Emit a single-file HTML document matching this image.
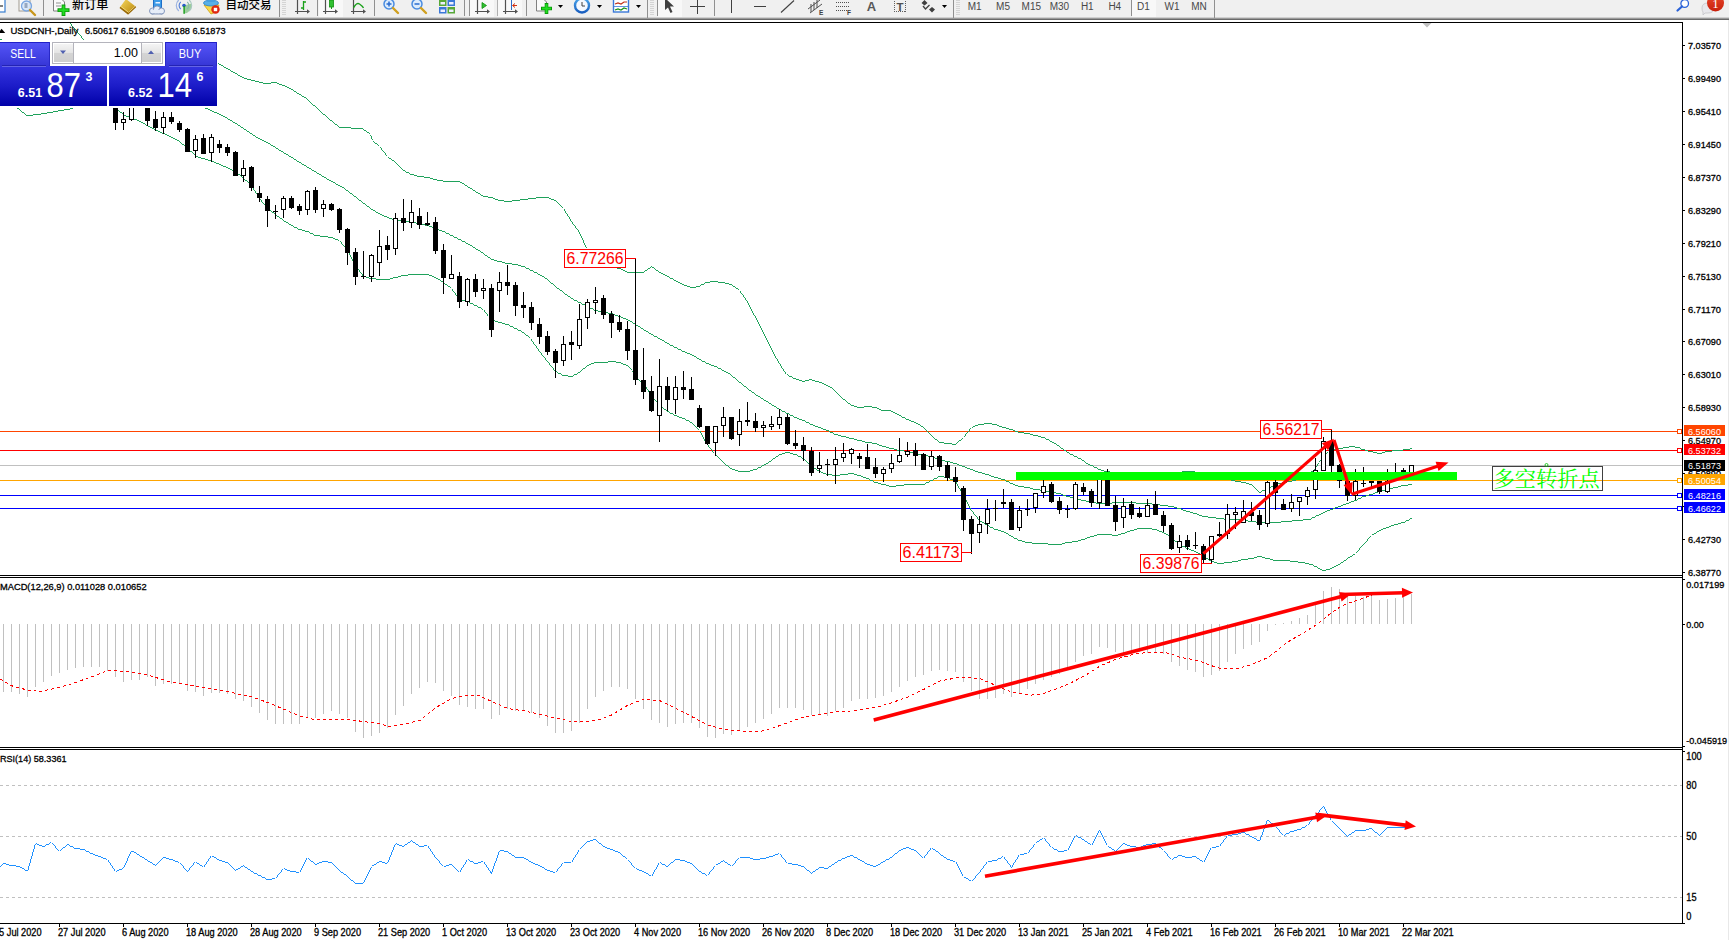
<!DOCTYPE html>
<html><head><meta charset="utf-8"><title>USDCNH Daily</title>
<style>html,body{margin:0;padding:0;background:#fff;overflow:hidden}body{width:1729px;height:940px;position:relative}</style>
</head><body>
<svg width="1729" height="940" viewBox="0 0 1729 940" style="position:absolute;left:0;top:0">
<rect width="1729" height="940" fill="#fff"/>
<g shape-rendering="crispEdges">
<rect x="0" y="431" width="1682" height="1" fill="#FF4500"/>
<rect x="0" y="450" width="1682" height="1" fill="#FF0000"/>
<rect x="0" y="465" width="1682" height="1" fill="#C0C0C0"/>
<rect x="0" y="480" width="1682" height="1" fill="#FFA500"/>
<rect x="0" y="495" width="1682" height="1" fill="#0000FF"/>
<rect x="0" y="508" width="1682" height="1" fill="#0000FF"/>
<path d="M69 22v1h1v-1zM70 23v1h1v-1zM71 24v2h1v-2zM72 26v1h1v-1zM73 27v1h1v-1zM74 28v1h1v-1zM75 29v1h1v-1zM76 30v1h1v-1zM77 31v2h1v-2zM78 33v1h1v-1zM79 34v1h1v-1zM80 35v1h1v-1zM81 36v2h1v-2zM82 38v1h1v-1zM83 39v1h1v-1zM84 40v1h1v-1zM84 40v2h1v-2zM85 42v1h1v-1zM86 43v2h1v-2zM86 44h4v1h-4zM90 45h6v1h-6zM96 46h7v1h-7zM103 47h6v1h-6zM109 48h6v1h-6zM115 49h7v1h-7zM122 50h6v1h-6zM128 51h6v1h-6zM134 52h7v1h-7zM141 53h6v1h-6zM147 54h4v1h-4zM150 54h4v1h-4zM154 55h8v1h-8zM162 56h7v1h-7zM169 57h8v1h-8zM177 58h8v1h-8zM185 59h7v1h-7zM192 60h8v1h-8zM200 61h7v1h-7zM207 62h8v1h-8zM215 63h4v1h-4zM218 63h1v1h-1zM219 64h2v1h-2zM221 65h2v1h-2zM223 66h1v1h-1zM224 67h2v1h-2zM226 68h2v1h-2zM228 69h2v1h-2zM230 70h1v1h-1zM230 70h1v1h-1zM231 71h2v1h-2zM233 72h2v1h-2zM235 73h2v1h-2zM237 74h1v1h-1zM238 75h2v1h-2zM240 76h2v1h-2zM242 77h2v1h-2zM244 78h1v1h-1zM244 78h3v1h-3zM247 79h4v1h-4zM251 80h4v1h-4zM255 81h4v1h-4zM259 82h4v1h-4zM263 83h3v1h-3zM265 83h6v1h-6zM271 82h5v1h-5zM275 82h2v1h-2zM277 83h2v1h-2zM279 84h3v1h-3zM282 85h3v1h-3zM285 86h2v1h-2zM287 87h2v1h-2zM288 87h1v1h-1zM289 88h2v1h-2zM291 89h2v1h-2zM293 90h1v1h-1zM294 91h2v1h-2zM296 92h1v1h-1zM297 93h2v1h-2zM299 94h2v1h-2zM301 95h1v1h-1zM302 96h2v1h-2zM304 97h2v1h-2zM306 98h1v1h-1zM306 98h1v1h-1zM307 99h1v1h-1zM308 100h1v1h-1zM309 101h1v1h-1zM310 102h1v1h-1zM311 103h1v1h-1zM312 104h1v1h-1zM313 105h2v1h-2zM315 106h1v1h-1zM316 107h1v1h-1zM317 108h1v1h-1zM318 109h1v1h-1zM319 110h1v1h-1zM320 111h1v1h-1zM321 112h1v1h-1zM321 112h1v1h-1zM322 113h1v1h-1zM323 114h2v1h-2zM325 115h1v1h-1zM326 116h1v1h-1zM327 117h1v1h-1zM328 118h1v1h-1zM329 119h1v1h-1zM330 120h2v1h-2zM332 121h1v1h-1zM333 122h1v1h-1zM334 123h1v1h-1zM335 124h2v1h-2zM337 125h1v1h-1zM338 126h1v1h-1zM339 127h1v1h-1zM339 127h12v1h-12zM351 128h12v1h-12zM362 128h1v1h-1zM363 129h1v1h-1zM364 130h2v1h-2zM366 131h1v1h-1zM367 132h2v1h-2zM369 133h1v1h-1zM370 134h1v1h-1zM370 134v2h1v-2zM371 136v3h1v-3zM372 139v2h1v-2zM372 140h1v1h-1zM373 141h1v1h-1zM374 142h1v1h-1zM375 143h2v1h-2zM377 144h1v1h-1zM378 145h1v1h-1zM379 146h1v1h-1zM379 146v1h1v-1zM380 147v1h1v-1zM381 148v2h1v-2zM382 150v1h1v-1zM383 151v1h1v-1zM384 152v1h1v-1zM385 153v2h1v-2zM386 155v1h1v-1zM387 156v1h1v-1zM387 156h1v1h-1zM388 157h1v1h-1zM389 158h2v1h-2zM391 159h1v1h-1zM392 160h2v1h-2zM394 161h1v1h-1zM395 162h1v1h-1zM395 162h1v1h-1zM396 163h1v1h-1zM397 164h1v1h-1zM398 165h1v1h-1zM399 166h1v1h-1zM400 167h1v1h-1zM401 168h1v1h-1zM402 169h1v1h-1zM403 170h1v1h-1zM403 170h2v1h-2zM405 171h1v1h-1zM406 172h3v1h-3zM409 173h1v1h-1zM410 174h2v1h-2zM411 174h3v1h-3zM414 175h3v1h-3zM417 176h3v1h-3zM419 176h5v1h-5zM424 177h4v1h-4zM427 177h3v1h-3zM430 178h3v1h-3zM433 179h3v1h-3zM435 179h2v1h-2zM437 180h2v1h-2zM438 180h5v1h-5zM443 181h5v1h-5zM447 181h13v1h-13zM459 181h1v1h-1zM460 182h2v1h-2zM462 183h2v1h-2zM464 184h1v1h-1zM465 185h2v1h-2zM467 186h1v1h-1zM467 186h1v1h-1zM468 187h2v1h-2zM470 188h2v1h-2zM472 189h1v1h-1zM473 190h2v1h-2zM475 191h1v1h-1zM475 191h1v1h-1zM476 192h2v1h-2zM478 193h2v1h-2zM480 194h1v1h-1zM481 195h2v1h-2zM483 196h1v1h-1zM483 196h5v1h-5zM488 197h4v1h-4zM491 197h2v1h-2zM493 198h2v1h-2zM495 199h3v1h-3zM498 200h2v1h-2zM499 200h5v1h-5zM504 201h4v1h-4zM507 201h5v1h-5zM512 200h4v1h-4zM515 200h5v1h-5zM520 199h4v1h-4zM523 199h5v1h-5zM528 198h4v1h-4zM531 198h5v1h-5zM536 197h4v1h-4zM539 197h9v1h-9zM547 197h2v1h-2zM549 198h2v1h-2zM551 199h3v1h-3zM554 200h2v1h-2zM555 200h1v1h-1zM556 201h1v1h-1zM557 202h1v1h-1zM558 203h1v1h-1zM559 204h1v1h-1zM560 205h1v1h-1zM561 206h1v1h-1zM562 207h1v1h-1zM563 208h1v1h-1zM563 208v1h1v-1zM564 209v2h1v-2zM565 211v2h1v-2zM566 213v1h1v-1zM567 214v2h1v-2zM568 216v1h1v-1zM569 217v2h1v-2zM570 219v2h1v-2zM571 221v1h1v-1zM571 221v1h1v-1zM572 222v2h1v-2zM573 224v1h1v-1zM574 225v1h1v-1zM575 226v2h1v-2zM576 228v1h1v-1zM577 229v1h1v-1zM578 230v2h1v-2zM579 232v1h1v-1zM579 232v2h1v-2zM580 234v2h1v-2zM581 236v2h1v-2zM582 238v2h1v-2zM583 240v3h1v-3zM584 243v2h1v-2zM585 245v2h1v-2zM586 247v2h1v-2zM586 248h1v1h-1zM587 249h1v1h-1zM588 250h1v1h-1zM589 251h2v1h-2zM591 252h1v1h-1zM592 253h1v1h-1zM593 254h1v1h-1zM594 255h1v1h-1zM595 256h1v1h-1zM596 257h2v1h-2zM598 258h1v1h-1zM599 259h1v1h-1zM600 260h1v1h-1zM600 260h2v1h-2zM602 261h2v1h-2zM604 262h2v1h-2zM606 263h2v1h-2zM608 264h3v1h-3zM611 265h2v1h-2zM613 266h2v1h-2zM615 267h2v1h-2zM617 268h2v1h-2zM618 268h3v1h-3zM620 268h1v1h-1zM621 269h2v1h-2zM623 270h2v1h-2zM625 271h2v1h-2zM627 272h1v1h-1zM627 272h9v1h-9zM635 272h9v1h-9zM643 272h1v1h-1zM644 271h1v1h-1zM645 270h2v1h-2zM647 269h1v1h-1zM648 268h2v1h-2zM650 267h1v1h-1zM651 266h1v1h-1zM651 266h1v1h-1zM652 267h2v1h-2zM654 268h1v1h-1zM655 269h1v1h-1zM656 270h2v1h-2zM658 271h1v1h-1zM658 271h1v1h-1zM659 272h2v1h-2zM661 273h2v1h-2zM663 274h2v1h-2zM665 275h2v1h-2zM667 276h1v1h-1zM667 276h2v1h-2zM669 277h1v1h-1zM670 278h3v1h-3zM673 279h1v1h-1zM674 280h2v1h-2zM675 280h1v1h-1zM676 281h2v1h-2zM678 282h2v1h-2zM680 283h2v1h-2zM682 284h2v1h-2zM684 285h1v1h-1zM684 285h3v1h-3zM687 286h3v1h-3zM690 287h3v1h-3zM692 287h4v1h-4zM696 286h3v1h-3zM698 286h2v1h-2zM700 285h1v1h-1zM701 284h3v1h-3zM704 283h1v1h-1zM705 282h2v1h-2zM706 282h4v1h-4zM710 281h4v1h-4zM713 281h5v1h-5zM718 282h5v1h-5zM722 282h3v1h-3zM725 283h4v1h-4zM729 284h3v1h-3zM731 284h1v1h-1zM732 285h1v1h-1zM733 286h2v1h-2zM735 287h1v1h-1zM736 288h2v1h-2zM738 289h1v1h-1zM739 290h1v1h-1zM739 290v1h1v-1zM740 291v2h1v-2zM741 293v1h1v-1zM742 294v1h1v-1zM743 295v2h1v-2zM744 297v1h1v-1zM745 298v2h1v-2zM746 300v1h1v-1zM746 300v1h1v-1zM747 301v2h1v-2zM748 303v2h1v-2zM749 305v2h1v-2zM750 307v2h1v-2zM751 309v2h1v-2zM752 311v2h1v-2zM753 313v2h1v-2zM754 315v1h1v-1zM754 315v1h1v-1zM755 316v2h1v-2zM756 318v2h1v-2zM757 320v2h1v-2zM758 322v2h1v-2zM759 324v2h1v-2zM760 326v2h1v-2zM761 328v1h1v-1zM761 328v2h1v-2zM762 330v2h1v-2zM763 332v2h1v-2zM764 334v2h1v-2zM765 336v2h1v-2zM766 338v2h1v-2zM767 340v2h1v-2zM768 342v2h1v-2zM768 343v1h1v-1zM769 344v2h1v-2zM770 346v2h1v-2zM771 348v2h1v-2zM772 350v2h1v-2zM773 352v2h1v-2zM774 354v2h1v-2zM775 356v2h1v-2zM776 358v1h1v-1zM776 358v1h1v-1zM777 359v2h1v-2zM778 361v2h1v-2zM779 363v1h1v-1zM780 364v2h1v-2zM781 366v2h1v-2zM782 368v1h1v-1zM782 368v1h1v-1zM783 369v2h1v-2zM784 371v1h1v-1zM785 372v2h1v-2zM786 374v1h1v-1zM786 374h2v1h-2zM788 375h1v1h-1zM789 376h3v1h-3zM792 377h1v1h-1zM793 378h2v1h-2zM794 378h2v1h-2zM796 379h3v1h-3zM799 380h3v1h-3zM802 381h2v1h-2zM803 381h2v1h-2zM805 380h4v1h-4zM809 379h2v1h-2zM810 379h2v1h-2zM812 380h3v1h-3zM815 381h4v1h-4zM819 382h2v1h-2zM820 382h2v1h-2zM822 383h1v1h-1zM822 383h2v1h-2zM824 384h2v1h-2zM826 385h2v1h-2zM828 386h2v1h-2zM830 387h2v1h-2zM831 387h1v1h-1zM832 388h1v1h-1zM833 389h1v1h-1zM834 390h1v1h-1zM835 391h1v1h-1zM836 392h1v1h-1zM837 393h1v1h-1zM838 394h1v1h-1zM839 395h1v1h-1zM840 396h1v1h-1zM841 397h1v1h-1zM841 397h1v1h-1zM842 398h1v1h-1zM843 399h2v1h-2zM845 400h1v1h-1zM846 401h1v1h-1zM847 402h1v1h-1zM848 403h2v1h-2zM850 404h1v1h-1zM851 405h1v1h-1zM851 405h3v1h-3zM854 406h3v1h-3zM857 407h3v1h-3zM859 407h5v1h-5zM864 406h4v1h-4zM867 406h5v1h-5zM872 407h4v1h-4zM875 407h2v1h-2zM877 408h2v1h-2zM879 409h2v1h-2zM881 410h2v1h-2zM882 410h9v1h-9zM890 410h1v1h-1zM891 411h2v1h-2zM893 412h2v1h-2zM895 413h2v1h-2zM897 414h2v1h-2zM899 415h1v1h-1zM899 415h2v1h-2zM901 416h1v1h-1zM902 417h3v1h-3zM905 418h1v1h-1zM906 419h2v1h-2zM907 419h2v1h-2zM909 420h2v1h-2zM911 421h3v1h-3zM914 422h2v1h-2zM915 422h1v1h-1zM916 423h2v1h-2zM918 424h2v1h-2zM920 425h1v1h-1zM921 426h2v1h-2zM923 427h1v1h-1zM923 427h1v1h-1zM924 428h1v1h-1zM925 429h1v1h-1zM926 430h1v1h-1zM927 431h1v1h-1zM928 432h1v1h-1zM929 433h1v1h-1zM930 434h1v1h-1zM931 435h1v1h-1zM931 435h1v1h-1zM932 436h1v1h-1zM933 437h1v1h-1zM934 438h1v1h-1zM935 439h2v1h-2zM937 440h1v1h-1zM938 441h1v1h-1zM939 442h1v1h-1zM939 442h5v1h-5zM944 443h4v1h-4zM947 443h5v1h-5zM952 444h4v1h-4zM955 444h1v1h-1zM956 443h1v1h-1zM957 442h1v1h-1zM958 441h1v1h-1zM959 440h2v1h-2zM961 439h1v1h-1zM962 438h1v1h-1zM963 437h1v1h-1zM963 437v1h1v-1zM964 436v1h1v-1zM965 434v2h1v-2zM966 433v1h1v-1zM967 432v1h1v-1zM968 431v1h1v-1zM969 429v2h1v-2zM970 428v1h1v-1zM971 427v1h1v-1zM971 427h2v1h-2zM973 426h2v1h-2zM975 425h3v1h-3zM978 424h2v1h-2zM979 424h5v1h-5zM984 423h4v1h-4zM987 423h5v1h-5zM992 424h4v1h-4zM995 424h2v1h-2zM997 425h2v1h-2zM999 426h3v1h-3zM1002 427h2v1h-2zM1003 427h3v1h-3zM1006 428h3v1h-3zM1009 429h3v1h-3zM1011 429h2v1h-2zM1013 430h2v1h-2zM1015 431h3v1h-3zM1018 432h2v1h-2zM1019 432h5v1h-5zM1024 433h4v1h-4zM1027 433h3v1h-3zM1030 434h3v1h-3zM1033 435h3v1h-3zM1035 435h3v1h-3zM1038 436h3v1h-3zM1041 437h3v1h-3zM1043 437h2v1h-2zM1045 438h1v1h-1zM1046 439h3v1h-3zM1049 440h1v1h-1zM1050 441h2v1h-2zM1051 441h1v1h-1zM1052 442h2v1h-2zM1054 443h2v1h-2zM1056 444h1v1h-1zM1057 445h2v1h-2zM1059 446h1v1h-1zM1059 446h1v1h-1zM1060 447h1v1h-1zM1061 448h2v1h-2zM1063 449h1v1h-1zM1064 450h2v1h-2zM1066 451h1v1h-1zM1067 452h1v1h-1zM1067 452h2v1h-2zM1069 453h1v1h-1zM1070 454h3v1h-3zM1073 455h1v1h-1zM1074 456h2v1h-2zM1075 456h2v1h-2zM1077 457h1v1h-1zM1078 458h3v1h-3zM1081 459h1v1h-1zM1082 460h2v1h-2zM1083 460h1v1h-1zM1084 461h1v1h-1zM1085 462h1v1h-1zM1086 463h1v1h-1zM1086 463h2v1h-2zM1088 464h2v1h-2zM1090 465h2v1h-2zM1091 465h2v1h-2zM1093 466h1v1h-1zM1094 467h3v1h-3zM1097 468h1v1h-1zM1098 469h2v1h-2zM1099 469h2v1h-2zM1101 470h3v1h-3zM1104 471h2v1h-2zM1105 471h5v1h-5zM1110 472h8v1h-8zM1118 473h9v1h-9zM1127 474h5v1h-5zM1131 474h35v1h-35zM1165 474h4v1h-4zM1169 473h6v1h-6zM1175 472h7v1h-7zM1182 471h4v1h-4zM1185 471h8v1h-8zM1192 471h3v1h-3zM1195 472h5v1h-5zM1200 473h5v1h-5zM1205 474h4v1h-4zM1209 475h5v1h-5zM1214 476h3v1h-3zM1216 476h3v1h-3zM1219 477h4v1h-4zM1223 478h4v1h-4zM1227 479h4v1h-4zM1231 480h4v1h-4zM1235 481h3v1h-3zM1237 481h4v1h-4zM1241 482h3v1h-3zM1243 482h3v1h-3zM1246 483h3v1h-3zM1249 484h3v1h-3zM1251 484h1v1h-1zM1252 485h1v1h-1zM1253 486h1v1h-1zM1254 487h1v1h-1zM1255 488h1v1h-1zM1256 489h1v1h-1zM1257 490h1v1h-1zM1258 491h1v1h-1zM1259 492h1v1h-1zM1259 492h2v1h-2zM1261 491h1v1h-1zM1262 490h3v1h-3zM1265 489h1v1h-1zM1266 488h2v1h-2zM1267 488h2v1h-2zM1269 487h2v1h-2zM1271 486h3v1h-3zM1274 485h2v1h-2zM1275 485h2v1h-2zM1277 484h1v1h-1zM1278 483h2v1h-2zM1279 483h3v1h-3zM1282 482h5v1h-5zM1287 481h5v1h-5zM1292 480h3v1h-3zM1294 480h2v1h-2zM1296 479h2v1h-2zM1298 478h3v1h-3zM1301 477h3v1h-3zM1304 476h2v1h-2zM1306 475h2v1h-2zM1307 475h1v1h-1zM1308 474h1v1h-1zM1309 473h1v1h-1zM1310 472h1v1h-1zM1311 471h2v1h-2zM1313 470h1v1h-1zM1314 469h1v1h-1zM1315 468h1v1h-1zM1316 467h1v1h-1zM1316 466v2h1v-2zM1317 464v2h1v-2zM1318 462v2h1v-2zM1318 462h1v1h-1zM1319 461h1v1h-1zM1320 460h1v1h-1zM1321 459h1v1h-1zM1321 459v1h1v-1zM1322 458v1h1v-1zM1323 457v1h1v-1zM1324 456v1h1v-1zM1325 454v2h1v-2zM1326 453v1h1v-1zM1327 452v1h1v-1zM1328 451v1h1v-1zM1328 451h2v1h-2zM1330 450h2v1h-2zM1331 450h3v1h-3zM1334 449h4v1h-4zM1338 448h3v1h-3zM1340 448h3v1h-3zM1343 447h6v1h-6zM1349 446h3v1h-3zM1351 446h4v1h-4zM1355 447h4v1h-4zM1358 447h2v1h-2zM1360 448h1v1h-1zM1361 449h2v1h-2zM1362 449h3v1h-3zM1365 450h3v1h-3zM1368 451h3v1h-3zM1370 451h3v1h-3zM1373 452h4v1h-4zM1377 453h3v1h-3zM1379 453h3v1h-3zM1382 452h3v1h-3zM1385 451h3v1h-3zM1387 451h5v1h-5zM1392 450h5v1h-5zM1396 450h7v1h-7zM1403 449h6v1h-6zM1408 449h2v1h-2zM1410 448h2v1h-2z" fill="#1FA25B"/>
<path d="M0 39h2v1h-2zM2 40h1v1h-1zM2 40h1v1h-1zM3 41h1v1h-1zM4 42h1v1h-1zM4 42h2v1h-2zM6 43h4v1h-4zM10 44h3v1h-3zM13 45h4v1h-4zM17 46h3v1h-3zM20 47h4v1h-4zM24 48h3v1h-3zM27 49h4v1h-4zM31 50h3v1h-3zM34 51h4v1h-4zM38 52h3v1h-3zM41 53h4v1h-4zM45 54h3v1h-3zM48 55h4v1h-4zM52 56h3v1h-3zM55 57h4v1h-4zM59 58h2v1h-2zM60 58h2v1h-2zM62 59h3v1h-3zM65 60h4v1h-4zM69 61h3v1h-3zM72 62h4v1h-4zM76 63h3v1h-3zM79 64h3v1h-3zM82 65h3v1h-3zM85 66h4v1h-4zM89 67h3v1h-3zM92 68h4v1h-4zM96 69h3v1h-3zM99 70h3v1h-3zM102 71h3v1h-3zM105 72h4v1h-4zM109 73h3v1h-3zM112 74h4v1h-4zM116 75h3v1h-3zM119 76h2v1h-2zM120 76h2v1h-2zM122 77h3v1h-3zM125 78h2v1h-2zM127 79h3v1h-3zM130 80h3v1h-3zM133 81h2v1h-2zM135 82h3v1h-3zM138 83h3v1h-3zM141 84h2v1h-2zM143 85h3v1h-3zM146 86h3v1h-3zM149 87h2v1h-2zM151 88h3v1h-3zM154 89h3v1h-3zM157 90h2v1h-2zM159 91h3v1h-3zM162 92h3v1h-3zM165 93h3v1h-3zM168 94h2v1h-2zM170 95h3v1h-3zM173 96h3v1h-3zM176 97h2v1h-2zM178 98h3v1h-3zM181 99h3v1h-3zM184 100h2v1h-2zM186 101h3v1h-3zM189 102h3v1h-3zM192 103h2v1h-2zM194 104h3v1h-3zM197 105h3v1h-3zM200 106h2v1h-2zM202 107h3v1h-3zM205 108h2v1h-2zM206 108h2v1h-2zM208 109h2v1h-2zM210 110h2v1h-2zM212 111h2v1h-2zM214 112h3v1h-3zM217 113h2v1h-2zM219 114h2v1h-2zM221 115h2v1h-2zM222 115h1v1h-1zM223 116h2v1h-2zM225 117h2v1h-2zM227 118h1v1h-1zM228 119h2v1h-2zM230 120h2v1h-2zM232 121h1v1h-1zM233 122h2v1h-2zM235 123h2v1h-2zM237 124h1v1h-1zM237 124h1v1h-1zM238 125h2v1h-2zM240 126h1v1h-1zM241 127h2v1h-2zM243 128h1v1h-1zM244 129h2v1h-2zM246 130h1v1h-1zM247 131h2v1h-2zM249 132h1v1h-1zM250 133h2v1h-2zM252 134h1v1h-1zM253 135h2v1h-2zM255 136h1v1h-1zM255 136h1v1h-1zM256 137h2v1h-2zM258 138h2v1h-2zM260 139h2v1h-2zM262 140h2v1h-2zM264 141h2v1h-2zM266 142h2v1h-2zM268 143h2v1h-2zM270 144h1v1h-1zM270 144h1v1h-1zM271 145h2v1h-2zM273 146h2v1h-2zM275 147h1v1h-1zM276 148h2v1h-2zM278 149h1v1h-1zM279 150h2v1h-2zM281 151h2v1h-2zM283 152h1v1h-1zM284 153h2v1h-2zM286 154h2v1h-2zM288 155h1v1h-1zM288 155h1v1h-1zM289 156h2v1h-2zM291 157h2v1h-2zM293 158h1v1h-1zM294 159h2v1h-2zM296 160h1v1h-1zM297 161h2v1h-2zM299 162h2v1h-2zM301 163h1v1h-1zM302 164h2v1h-2zM304 165h2v1h-2zM306 166h1v1h-1zM306 166h1v1h-1zM307 167h2v1h-2zM309 168h2v1h-2zM311 169h1v1h-1zM312 170h2v1h-2zM314 171h2v1h-2zM316 172h1v1h-1zM317 173h2v1h-2zM319 174h2v1h-2zM321 175h1v1h-1zM322 176h2v1h-2zM324 177h2v1h-2zM326 178h1v1h-1zM326 178h1v1h-1zM327 179h2v1h-2zM329 180h2v1h-2zM331 181h2v1h-2zM333 182h2v1h-2zM335 183h1v1h-1zM336 184h2v1h-2zM338 185h2v1h-2zM340 186h2v1h-2zM342 187h2v1h-2zM344 188h1v1h-1zM344 188h1v1h-1zM345 189h1v1h-1zM346 190h2v1h-2zM348 191h1v1h-1zM349 192h1v1h-1zM350 193h2v1h-2zM352 194h1v1h-1zM353 195h1v1h-1zM354 196h2v1h-2zM356 197h1v1h-1zM357 198h1v1h-1zM357 198h1v1h-1zM358 199h1v1h-1zM359 200h2v1h-2zM361 201h1v1h-1zM362 202h1v1h-1zM363 203h2v1h-2zM365 204h1v1h-1zM366 205h1v1h-1zM367 206h2v1h-2zM369 207h1v1h-1zM370 208h1v1h-1zM370 208h1v1h-1zM371 209h2v1h-2zM373 210h2v1h-2zM375 211h1v1h-1zM376 212h2v1h-2zM378 213h2v1h-2zM380 214h2v1h-2zM382 215h1v1h-1zM382 215h2v1h-2zM384 216h3v1h-3zM387 217h2v1h-2zM389 218h3v1h-3zM392 219h2v1h-2zM393 219h4v1h-4zM397 220h8v1h-8zM405 221h4v1h-4zM408 221h3v1h-3zM411 222h5v1h-5zM416 223h5v1h-5zM421 224h3v1h-3zM423 224h2v1h-2zM425 225h4v1h-4zM429 226h2v1h-2zM430 226h2v1h-2zM432 227h2v1h-2zM434 228h2v1h-2zM435 228h2v1h-2zM437 229h2v1h-2zM439 230h3v1h-3zM442 231h2v1h-2zM443 231h2v1h-2zM445 232h1v1h-1zM446 233h3v1h-3zM449 234h1v1h-1zM450 235h2v1h-2zM451 235h2v1h-2zM453 236h1v1h-1zM454 237h3v1h-3zM457 238h1v1h-1zM458 239h2v1h-2zM459 239h2v1h-2zM461 240h1v1h-1zM462 241h3v1h-3zM465 242h1v1h-1zM466 243h2v1h-2zM467 243h1v1h-1zM468 244h2v1h-2zM470 245h2v1h-2zM472 246h1v1h-1zM473 247h2v1h-2zM475 248h1v1h-1zM475 248h1v1h-1zM476 249h2v1h-2zM478 250h2v1h-2zM480 251h1v1h-1zM481 252h2v1h-2zM483 253h1v1h-1zM483 253h1v1h-1zM484 254h1v1h-1zM485 255h2v1h-2zM487 256h1v1h-1zM488 257h2v1h-2zM490 258h1v1h-1zM491 259h1v1h-1zM491 259h3v1h-3zM494 260h3v1h-3zM497 261h3v1h-3zM499 261h3v1h-3zM502 262h3v1h-3zM505 263h3v1h-3zM507 263h5v1h-5zM512 264h4v1h-4zM515 264h3v1h-3zM518 265h3v1h-3zM521 266h3v1h-3zM523 266h2v1h-2zM525 267h1v1h-1zM526 268h3v1h-3zM529 269h1v1h-1zM530 270h2v1h-2zM531 270h2v1h-2zM533 271h1v1h-1zM534 272h3v1h-3zM537 273h1v1h-1zM538 274h2v1h-2zM539 274h1v1h-1zM540 275h2v1h-2zM542 276h2v1h-2zM544 277h1v1h-1zM545 278h2v1h-2zM547 279h1v1h-1zM547 279h1v1h-1zM548 280h1v1h-1zM549 281h1v1h-1zM550 282h1v1h-1zM551 283h2v1h-2zM553 284h1v1h-1zM554 285h1v1h-1zM555 286h1v1h-1zM555 286h1v1h-1zM556 287h1v1h-1zM557 288h2v1h-2zM559 289h1v1h-1zM560 290h2v1h-2zM562 291h1v1h-1zM563 292h1v1h-1zM563 292h1v1h-1zM564 293h1v1h-1zM565 294h2v1h-2zM567 295h1v1h-1zM568 296h2v1h-2zM570 297h1v1h-1zM571 298h1v1h-1zM571 298h2v1h-2zM573 299h1v1h-1zM574 300h3v1h-3zM577 301h1v1h-1zM578 302h2v1h-2zM579 302h2v1h-2zM581 303h1v1h-1zM582 304h3v1h-3zM585 305h1v1h-1zM586 306h2v1h-2zM587 306h2v1h-2zM589 307h1v1h-1zM590 308h3v1h-3zM593 309h1v1h-1zM594 310h2v1h-2zM595 310h3v1h-3zM598 311h3v1h-3zM601 312h3v1h-3zM603 312h5v1h-5zM608 313h4v1h-4zM611 313h2v1h-2zM613 314h2v1h-2zM615 315h3v1h-3zM618 316h2v1h-2zM619 316h2v1h-2zM621 317h2v1h-2zM623 318h3v1h-3zM626 319h2v1h-2zM627 319h1v1h-1zM628 320h2v1h-2zM630 321h2v1h-2zM632 322h1v1h-1zM633 323h2v1h-2zM635 324h1v1h-1zM635 324h1v1h-1zM636 325h2v1h-2zM638 326h2v1h-2zM640 327h1v1h-1zM641 328h2v1h-2zM643 329h1v1h-1zM643 329h1v1h-1zM644 330h2v1h-2zM646 331h2v1h-2zM648 332h1v1h-1zM649 333h2v1h-2zM651 334h1v1h-1zM651 334h2v1h-2zM653 335h1v1h-1zM654 336h3v1h-3zM657 337h1v1h-1zM658 338h2v1h-2zM659 338h1v1h-1zM660 339h2v1h-2zM662 340h2v1h-2zM664 341h1v1h-1zM665 342h2v1h-2zM667 343h1v1h-1zM667 343h2v1h-2zM669 344h1v1h-1zM670 345h3v1h-3zM673 346h1v1h-1zM674 347h2v1h-2zM675 347h2v1h-2zM677 348h1v1h-1zM678 349h3v1h-3zM681 350h1v1h-1zM682 351h2v1h-2zM683 351h2v1h-2zM685 352h2v1h-2zM687 353h3v1h-3zM690 354h2v1h-2zM691 354h1v1h-1zM692 355h2v1h-2zM694 356h2v1h-2zM696 357h1v1h-1zM697 358h2v1h-2zM699 359h1v1h-1zM699 359h2v1h-2zM701 360h1v1h-1zM702 361h3v1h-3zM705 362h1v1h-1zM706 363h2v1h-2zM707 363h2v1h-2zM709 364h2v1h-2zM711 365h3v1h-3zM714 366h2v1h-2zM715 366h2v1h-2zM717 367h1v1h-1zM718 368h3v1h-3zM721 369h1v1h-1zM722 370h2v1h-2zM723 370h1v1h-1zM724 371h2v1h-2zM726 372h2v1h-2zM728 373h2v1h-2zM730 374h1v1h-1zM730 374h1v1h-1zM731 375h1v1h-1zM732 376h1v1h-1zM733 377h2v1h-2zM735 378h1v1h-1zM736 379h1v1h-1zM737 380h1v1h-1zM737 380h1v1h-1zM738 381h1v1h-1zM739 382h2v1h-2zM741 383h1v1h-1zM742 384h1v1h-1zM743 385h1v1h-1zM744 386h2v1h-2zM746 387h1v1h-1zM747 388h1v1h-1zM747 388h1v1h-1zM748 389h1v1h-1zM749 390h2v1h-2zM751 391h1v1h-1zM752 392h2v1h-2zM754 393h1v1h-1zM755 394h1v1h-1zM755 394h1v1h-1zM756 395h2v1h-2zM758 396h2v1h-2zM760 397h1v1h-1zM761 398h2v1h-2zM763 399h1v1h-1zM763 399h1v1h-1zM764 400h2v1h-2zM766 401h2v1h-2zM768 402h1v1h-1zM769 403h2v1h-2zM771 404h1v1h-1zM771 404h1v1h-1zM772 405h2v1h-2zM774 406h2v1h-2zM776 407h1v1h-1zM777 408h2v1h-2zM779 409h1v1h-1zM779 409h2v1h-2zM781 410h1v1h-1zM782 411h3v1h-3zM785 412h1v1h-1zM786 413h2v1h-2zM787 413h2v1h-2zM789 414h1v1h-1zM790 415h3v1h-3zM793 416h1v1h-1zM794 417h2v1h-2zM795 417h2v1h-2zM797 418h2v1h-2zM799 419h3v1h-3zM802 420h2v1h-2zM803 420h2v1h-2zM805 421h1v1h-1zM806 422h3v1h-3zM809 423h1v1h-1zM810 424h2v1h-2zM811 424h2v1h-2zM813 425h2v1h-2zM815 426h3v1h-3zM818 427h2v1h-2zM819 427h2v1h-2zM821 428h2v1h-2zM823 429h3v1h-3zM826 430h2v1h-2zM827 430h2v1h-2zM829 431h1v1h-1zM830 432h3v1h-3zM833 433h1v1h-1zM834 434h2v1h-2zM835 434h3v1h-3zM838 435h3v1h-3zM841 436h3v1h-3zM843 436h3v1h-3zM846 437h3v1h-3zM849 438h3v1h-3zM851 438h3v1h-3zM854 439h3v1h-3zM857 440h3v1h-3zM859 440h3v1h-3zM862 441h3v1h-3zM865 442h3v1h-3zM867 442h5v1h-5zM872 443h4v1h-4zM875 443h2v1h-2zM877 444h2v1h-2zM879 445h3v1h-3zM882 446h2v1h-2zM883 446h3v1h-3zM886 447h3v1h-3zM889 448h3v1h-3zM891 448h3v1h-3zM894 449h3v1h-3zM897 450h3v1h-3zM899 450h5v1h-5zM904 451h4v1h-4zM907 451h3v1h-3zM910 452h3v1h-3zM913 453h3v1h-3zM915 453h3v1h-3zM918 454h3v1h-3zM921 455h3v1h-3zM923 455h5v1h-5zM928 456h4v1h-4zM931 456h2v1h-2zM933 457h2v1h-2zM935 458h3v1h-3zM938 459h2v1h-2zM939 459h3v1h-3zM942 460h3v1h-3zM945 461h3v1h-3zM947 461h3v1h-3zM950 462h3v1h-3zM953 463h3v1h-3zM955 463h2v1h-2zM957 464h2v1h-2zM959 465h3v1h-3zM962 466h2v1h-2zM963 466h2v1h-2zM965 467h2v1h-2zM967 468h3v1h-3zM970 469h2v1h-2zM971 469h2v1h-2zM973 470h2v1h-2zM975 471h3v1h-3zM978 472h2v1h-2zM979 472h3v1h-3zM982 473h3v1h-3zM985 474h3v1h-3zM987 474h2v1h-2zM989 475h2v1h-2zM991 476h3v1h-3zM994 477h2v1h-2zM995 477h3v1h-3zM998 478h3v1h-3zM1001 479h3v1h-3zM1003 479h2v1h-2zM1005 480h1v1h-1zM1006 481h3v1h-3zM1009 482h1v1h-1zM1010 483h2v1h-2zM1011 483h2v1h-2zM1013 484h2v1h-2zM1015 485h3v1h-3zM1018 486h2v1h-2zM1019 486h5v1h-5zM1024 487h4v1h-4zM1027 487h3v1h-3zM1030 488h3v1h-3zM1033 489h3v1h-3zM1035 489h5v1h-5zM1040 490h4v1h-4zM1043 490h3v1h-3zM1046 491h3v1h-3zM1049 492h3v1h-3zM1051 492h5v1h-5zM1056 493h4v1h-4zM1059 493h2v1h-2zM1061 494h2v1h-2zM1063 495h3v1h-3zM1066 496h2v1h-2zM1067 496h3v1h-3zM1070 497h3v1h-3zM1073 498h3v1h-3zM1075 498h3v1h-3zM1078 499h3v1h-3zM1081 500h3v1h-3zM1083 500h3v1h-3zM1086 501h3v1h-3zM1089 502h3v1h-3zM1091 502h5v1h-5zM1096 503h4v1h-4zM1099 503h9v1h-9zM1107 503h5v1h-5zM1112 502h4v1h-4zM1115 502h9v1h-9zM1123 502h9v1h-9zM1131 502h5v1h-5zM1136 503h4v1h-4zM1139 503h9v1h-9zM1147 503h5v1h-5zM1152 504h4v1h-4zM1155 504h5v1h-5zM1160 505h4v1h-4zM1163 505h5v1h-5zM1168 506h4v1h-4zM1171 506h3v1h-3zM1174 507h3v1h-3zM1177 508h3v1h-3zM1179 508h2v1h-2zM1181 509h2v1h-2zM1183 510h3v1h-3zM1186 511h2v1h-2zM1187 511h3v1h-3zM1190 512h3v1h-3zM1193 513h3v1h-3zM1195 513h2v1h-2zM1197 514h2v1h-2zM1199 515h3v1h-3zM1202 516h2v1h-2zM1203 516h5v1h-5zM1208 517h4v1h-4zM1211 517h5v1h-5zM1216 518h4v1h-4zM1219 518h5v1h-5zM1224 519h4v1h-4zM1227 519h9v1h-9zM1235 519h5v1h-5zM1240 520h4v1h-4zM1243 520h5v1h-5zM1248 521h4v1h-4zM1251 521h5v1h-5zM1256 522h4v1h-4zM1259 522h9v1h-9zM1267 522h9v1h-9zM1275 522h6v1h-6zM1281 521h5v1h-5zM1285 521h7v1h-7zM1292 520h11v1h-11zM1303 519h7v1h-7zM1309 519h2v1h-2zM1311 518h1v1h-1zM1312 517h3v1h-3zM1315 516h1v1h-1zM1316 515h2v1h-2zM1317 515h2v1h-2zM1319 514h2v1h-2zM1321 513h2v1h-2zM1323 512h2v1h-2zM1325 511h2v1h-2zM1327 510h2v1h-2zM1328 510h2v1h-2zM1330 509h3v1h-3zM1333 508h2v1h-2zM1335 507h3v1h-3zM1338 506h2v1h-2zM1339 506h2v1h-2zM1341 505h2v1h-2zM1343 504h3v1h-3zM1346 503h2v1h-2zM1347 503h2v1h-2zM1349 502h2v1h-2zM1351 501h3v1h-3zM1354 500h2v1h-2zM1355 500h2v1h-2zM1357 499h1v1h-1zM1358 498h3v1h-3zM1361 497h1v1h-1zM1362 496h2v1h-2zM1363 496h3v1h-3zM1366 495h3v1h-3zM1369 494h3v1h-3zM1371 494h2v1h-2zM1373 493h2v1h-2zM1375 492h3v1h-3zM1378 491h2v1h-2zM1379 491h3v1h-3zM1382 490h3v1h-3zM1385 489h3v1h-3zM1387 489h3v1h-3zM1390 488h3v1h-3zM1393 487h3v1h-3zM1395 487h3v1h-3zM1398 486h3v1h-3zM1401 485h3v1h-3zM1403 485h5v1h-5zM1408 484h4v1h-4z" fill="#1FA25B"/>
<path d="M0 100h2v1h-2zM2 101h2v1h-2zM4 102h2v1h-2zM6 103h2v1h-2zM8 104h3v1h-3zM11 105h2v1h-2zM13 106h2v1h-2zM15 107h2v1h-2zM17 108h2v1h-2zM18 108h1v1h-1zM19 109h1v1h-1zM20 110h1v1h-1zM21 111h1v1h-1zM22 112h2v1h-2zM24 113h1v1h-1zM25 114h1v1h-1zM26 115h1v1h-1zM26 115h7v1h-7zM33 114h6v1h-6zM38 114h3v1h-3zM41 113h6v1h-6zM47 112h6v1h-6zM53 111h5v1h-5zM58 110h6v1h-6zM64 109h6v1h-6zM70 108h3v1h-3zM72 108h1v1h-1zM73 107h1v1h-1zM74 106h2v1h-2zM76 105h1v1h-1zM77 104h2v1h-2zM79 103h1v1h-1zM80 102h1v1h-1zM80 102h31v1h-31zM110 102h1v1h-1zM111 103h1v1h-1zM112 104h1v1h-1zM113 105h1v1h-1zM114 106h1v1h-1zM115 107h1v1h-1zM116 108h1v1h-1zM116 108h1v1h-1zM117 109h1v1h-1zM118 110h1v1h-1zM119 111h1v1h-1zM120 112h2v1h-2zM122 113h1v1h-1zM123 114h1v1h-1zM124 115h1v1h-1zM124 115h2v1h-2zM126 116h3v1h-3zM129 117h3v1h-3zM132 118h2v1h-2zM134 119h3v1h-3zM137 120h2v1h-2zM138 120h1v1h-1zM139 121h2v1h-2zM141 122h2v1h-2zM143 123h2v1h-2zM145 124h1v1h-1zM146 125h2v1h-2zM148 126h2v1h-2zM150 127h2v1h-2zM152 128h1v1h-1zM152 128h2v1h-2zM154 129h2v1h-2zM156 130h2v1h-2zM158 131h2v1h-2zM160 132h2v1h-2zM162 133h2v1h-2zM163 133h2v1h-2zM165 134h2v1h-2zM167 135h2v1h-2zM169 136h2v1h-2zM171 137h2v1h-2zM173 138h2v1h-2zM175 139h2v1h-2zM177 140h2v1h-2zM178 140h1v1h-1zM179 141h1v1h-1zM180 142h1v1h-1zM181 143h1v1h-1zM182 144h2v1h-2zM184 145h1v1h-1zM185 146h1v1h-1zM186 147h1v1h-1zM186 147h1v1h-1zM187 148h1v1h-1zM188 149h1v1h-1zM189 150h1v1h-1zM190 151h2v1h-2zM192 152h1v1h-1zM193 153h1v1h-1zM194 154h1v1h-1zM195 155h1v1h-1zM196 156h1v1h-1zM196 156h2v1h-2zM198 157h3v1h-3zM201 158h4v1h-4zM205 159h3v1h-3zM208 160h3v1h-3zM211 161h2v1h-2zM212 161h2v1h-2zM214 162h2v1h-2zM216 163h3v1h-3zM219 164h2v1h-2zM221 165h2v1h-2zM223 166h3v1h-3zM226 167h2v1h-2zM228 168h2v1h-2zM229 168h1v1h-1zM230 169h2v1h-2zM232 170h1v1h-1zM233 171h2v1h-2zM235 172h2v1h-2zM237 173h1v1h-1zM238 174h2v1h-2zM240 175h1v1h-1zM240 175h1v1h-1zM241 176h1v1h-1zM242 177h1v1h-1zM243 178h1v1h-1zM244 179h1v1h-1zM245 180h2v1h-2zM247 181h1v1h-1zM248 182h1v1h-1zM249 183h1v1h-1zM250 184h1v1h-1zM251 185h1v1h-1zM251 185v1h1v-1zM252 186v2h1v-2zM253 188v2h1v-2zM254 190v1h1v-1zM255 191v2h1v-2zM256 193v1h1v-1zM257 194v2h1v-2zM258 196v2h1v-2zM259 198v1h1v-1zM259 198v1h1v-1zM260 199v1h1v-1zM261 200v2h1v-2zM262 202v1h1v-1zM263 203v1h1v-1zM264 204v1h1v-1zM265 205v2h1v-2zM266 207v1h1v-1zM267 208v1h1v-1zM267 208h1v1h-1zM268 209h1v1h-1zM269 210h2v1h-2zM271 211h1v1h-1zM272 212h2v1h-2zM274 213h1v1h-1zM275 214h1v1h-1zM275 214h1v1h-1zM276 215h1v1h-1zM277 216h2v1h-2zM279 217h1v1h-1zM280 218h2v1h-2zM282 219h1v1h-1zM283 220h1v1h-1zM283 220h1v1h-1zM284 221h2v1h-2zM286 222h2v1h-2zM288 223h1v1h-1zM289 224h2v1h-2zM291 225h1v1h-1zM291 225h2v1h-2zM293 226h1v1h-1zM294 227h3v1h-3zM297 228h1v1h-1zM298 229h2v1h-2zM299 229h3v1h-3zM302 230h3v1h-3zM305 231h3v1h-3zM307 231h2v1h-2zM309 232h1v1h-1zM310 233h3v1h-3zM313 234h1v1h-1zM314 235h2v1h-2zM315 235h5v1h-5zM320 236h4v1h-4zM323 236h5v1h-5zM328 237h4v1h-4zM331 237h2v1h-2zM333 238h2v1h-2zM335 239h3v1h-3zM338 240h2v1h-2zM339 240v1h1v-1zM340 241v1h1v-1zM341 242v2h1v-2zM342 244v1h1v-1zM343 245v1h1v-1zM344 246v1h1v-1zM345 247v2h1v-2zM346 249v1h1v-1zM347 250v1h1v-1zM347 250v1h1v-1zM348 251v2h1v-2zM349 253v2h1v-2zM350 255v2h1v-2zM351 257v2h1v-2zM352 259v2h1v-2zM353 261v2h1v-2zM354 263v2h1v-2zM355 265v1h1v-1zM355 265v1h1v-1zM356 266v2h1v-2zM357 268v1h1v-1zM358 269v1h1v-1zM359 270v2h1v-2zM360 272v1h1v-1zM361 273v1h1v-1zM362 274v2h1v-2zM363 276v1h1v-1zM363 276h3v1h-3zM366 277h3v1h-3zM369 278h3v1h-3zM371 278h5v1h-5zM376 279h4v1h-4zM379 279h9v1h-9zM387 279h3v1h-3zM390 278h3v1h-3zM393 277h3v1h-3zM395 277h3v1h-3zM398 276h3v1h-3zM401 275h3v1h-3zM403 275h5v1h-5zM408 274h4v1h-4zM411 274h9v1h-9zM419 274h9v1h-9zM427 274h2v1h-2zM429 275h2v1h-2zM430 275h2v1h-2zM432 276h2v1h-2zM434 277h2v1h-2zM435 277h1v1h-1zM436 278h2v1h-2zM438 279h2v1h-2zM440 280h1v1h-1zM441 281h2v1h-2zM443 282h1v1h-1zM443 282h1v1h-1zM444 283h1v1h-1zM445 284h2v1h-2zM447 285h1v1h-1zM448 286h2v1h-2zM450 287h1v1h-1zM451 288h1v1h-1zM451 288v1h1v-1zM452 289v2h1v-2zM453 291v1h1v-1zM454 292v1h1v-1zM455 293v2h1v-2zM456 295v1h1v-1zM457 296v1h1v-1zM458 297v2h1v-2zM459 299v1h1v-1zM459 299h3v1h-3zM462 300h3v1h-3zM465 301h3v1h-3zM467 301h2v1h-2zM469 302h1v1h-1zM470 303h3v1h-3zM473 304h1v1h-1zM474 305h2v1h-2zM475 305h2v1h-2zM477 306h1v1h-1zM478 307h3v1h-3zM481 308h1v1h-1zM482 309h2v1h-2zM483 309v1h1v-1zM484 310v2h1v-2zM485 312v1h1v-1zM486 313v1h1v-1zM487 314v2h1v-2zM488 316v1h1v-1zM488 316h1v1h-1zM489 317h1v1h-1zM490 318h2v1h-2zM492 319h1v1h-1zM493 320h1v1h-1zM493 320h2v1h-2zM495 321h3v1h-3zM498 322h2v1h-2zM499 322h3v1h-3zM502 323h3v1h-3zM505 324h3v1h-3zM507 324h2v1h-2zM509 325h1v1h-1zM510 326h3v1h-3zM513 327h1v1h-1zM514 328h2v1h-2zM515 328h2v1h-2zM517 329h1v1h-1zM518 330h3v1h-3zM521 331h1v1h-1zM522 332h2v1h-2zM523 332h1v1h-1zM524 333h1v1h-1zM525 334h1v1h-1zM526 335h2v1h-2zM528 336h1v1h-1zM529 337h1v1h-1zM530 338h1v1h-1zM530 338v1h1v-1zM531 339v2h1v-2zM532 341v1h1v-1zM533 342v2h1v-2zM534 344v1h1v-1zM535 345v1h1v-1zM536 346v2h1v-2zM537 348v1h1v-1zM538 349v2h1v-2zM539 351v1h1v-1zM539 351v1h1v-1zM540 352v1h1v-1zM541 353v2h1v-2zM542 355v1h1v-1zM543 356v1h1v-1zM544 357v1h1v-1zM545 358v2h1v-2zM546 360v1h1v-1zM547 361v1h1v-1zM547 361v1h1v-1zM548 362v1h1v-1zM549 363v2h1v-2zM550 365v1h1v-1zM551 366v1h1v-1zM552 367v1h1v-1zM553 368v2h1v-2zM554 370v1h1v-1zM555 371v1h1v-1zM555 371h2v1h-2zM557 372h1v1h-1zM558 373h3v1h-3zM561 374h1v1h-1zM562 375h2v1h-2zM563 375h5v1h-5zM568 376h4v1h-4zM571 376h2v1h-2zM573 375h1v1h-1zM574 374h3v1h-3zM577 373h1v1h-1zM578 372h2v1h-2zM579 372h1v1h-1zM580 371h1v1h-1zM581 370h1v1h-1zM582 369h1v1h-1zM583 368h2v1h-2zM585 367h1v1h-1zM586 366h1v1h-1zM587 365h1v1h-1zM587 365h2v1h-2zM589 364h2v1h-2zM591 363h3v1h-3zM594 362h2v1h-2zM595 362h9v1h-9zM603 362h5v1h-5zM608 361h4v1h-4zM611 361h5v1h-5zM616 362h4v1h-4zM619 362h2v1h-2zM621 363h2v1h-2zM623 364h3v1h-3zM626 365h2v1h-2zM627 365h1v1h-1zM628 366h1v1h-1zM629 367h1v1h-1zM630 368h1v1h-1zM631 369h1v1h-1zM632 370h1v1h-1zM632 370v2h1v-2zM633 372v2h1v-2zM634 374v2h1v-2zM635 376v2h1v-2zM635 377h1v1h-1zM636 378h1v1h-1zM637 379h2v1h-2zM639 380h1v1h-1zM640 381h2v1h-2zM642 382h1v1h-1zM643 383h1v1h-1zM643 383v1h1v-1zM644 384v2h1v-2zM645 386v1h1v-1zM646 387v2h1v-2zM647 389v1h1v-1zM648 390v2h1v-2zM649 392v1h1v-1zM650 393v2h1v-2zM651 395v1h1v-1zM651 395v1h1v-1zM652 396v1h1v-1zM653 397v2h1v-2zM654 399v1h1v-1zM655 400v1h1v-1zM656 401v1h1v-1zM657 402v2h1v-2zM658 404v1h1v-1zM659 405v1h1v-1zM659 405h1v1h-1zM660 406h1v1h-1zM661 407h2v1h-2zM663 408h1v1h-1zM664 409h2v1h-2zM666 410h1v1h-1zM667 411h1v1h-1zM667 411h2v1h-2zM669 412h1v1h-1zM670 413h3v1h-3zM673 414h1v1h-1zM674 415h2v1h-2zM675 415h2v1h-2zM677 416h2v1h-2zM679 417h3v1h-3zM682 418h2v1h-2zM683 418h2v1h-2zM685 419h1v1h-1zM686 420h3v1h-3zM689 421h1v1h-1zM690 422h2v1h-2zM691 422h1v1h-1zM692 423h1v1h-1zM693 424h1v1h-1zM694 425h1v1h-1zM695 426h1v1h-1zM696 427h1v1h-1zM697 428h1v1h-1zM698 429h1v1h-1zM699 430h1v1h-1zM699 430v1h1v-1zM700 431v2h1v-2zM701 433v2h1v-2zM702 435v2h1v-2zM703 437v2h1v-2zM704 439v2h1v-2zM705 441v2h1v-2zM706 443v1h1v-1zM706 443v1h1v-1zM707 444v1h1v-1zM708 445v2h1v-2zM709 447v1h1v-1zM710 448v1h1v-1zM711 449v1h1v-1zM712 450v2h1v-2zM713 452v1h1v-1zM714 453v1h1v-1zM714 453h1v1h-1zM715 454h1v1h-1zM716 455h1v1h-1zM717 456h1v1h-1zM718 457h1v1h-1zM719 458h1v1h-1zM720 459h1v1h-1zM721 460h1v1h-1zM722 461h1v1h-1zM722 461h1v1h-1zM723 462h1v1h-1zM724 463h1v1h-1zM725 464h1v1h-1zM726 465h2v1h-2zM728 466h1v1h-1zM729 467h1v1h-1zM730 468h1v1h-1zM730 468h2v1h-2zM732 469h3v1h-3zM735 470h3v1h-3zM738 471h2v1h-2zM739 471h9v1h-9zM747 471h3v1h-3zM750 470h3v1h-3zM753 469h3v1h-3zM755 469h2v1h-2zM757 468h1v1h-1zM758 467h3v1h-3zM761 466h1v1h-1zM762 465h2v1h-2zM763 465h1v1h-1zM764 464h2v1h-2zM766 463h2v1h-2zM768 462h1v1h-1zM769 461h2v1h-2zM771 460h1v1h-1zM771 460h1v1h-1zM772 459h1v1h-1zM773 458h2v1h-2zM775 457h1v1h-1zM776 456h2v1h-2zM778 455h1v1h-1zM779 454h1v1h-1zM779 454h3v1h-3zM782 453h3v1h-3zM785 452h3v1h-3zM787 452h3v1h-3zM790 453h3v1h-3zM793 454h3v1h-3zM795 454h2v1h-2zM797 455h1v1h-1zM798 456h3v1h-3zM801 457h1v1h-1zM802 458h2v1h-2zM803 458h1v1h-1zM804 459h1v1h-1zM805 460h1v1h-1zM806 461h1v1h-1zM807 462h1v1h-1zM808 463h1v1h-1zM809 464h1v1h-1zM810 465h1v1h-1zM811 466h1v1h-1zM811 466h1v1h-1zM812 467h2v1h-2zM814 468h2v1h-2zM816 469h1v1h-1zM817 470h2v1h-2zM819 471h1v1h-1zM819 471h2v1h-2zM821 472h2v1h-2zM823 473h3v1h-3zM826 474h2v1h-2zM827 474h5v1h-5zM832 475h4v1h-4zM835 475h5v1h-5zM840 474h4v1h-4zM843 474h5v1h-5zM848 473h4v1h-4zM851 473h3v1h-3zM854 474h3v1h-3zM857 475h3v1h-3zM859 475h2v1h-2zM861 476h2v1h-2zM863 477h3v1h-3zM866 478h2v1h-2zM867 478h2v1h-2zM869 479h1v1h-1zM870 480h3v1h-3zM873 481h1v1h-1zM874 482h2v1h-2zM875 482h3v1h-3zM878 483h3v1h-3zM881 484h3v1h-3zM883 484h3v1h-3zM886 485h3v1h-3zM889 486h3v1h-3zM891 486h5v1h-5zM896 485h4v1h-4zM899 485h5v1h-5zM904 484h4v1h-4zM907 484h9v1h-9zM915 484h9v1h-9zM923 484h2v1h-2zM925 483h1v1h-1zM926 482h3v1h-3zM929 481h1v1h-1zM930 480h2v1h-2zM931 480h2v1h-2zM933 479h1v1h-1zM934 478h3v1h-3zM937 477h1v1h-1zM938 476h2v1h-2zM939 476h5v1h-5zM944 477h4v1h-4zM947 477h2v1h-2zM949 478h1v1h-1zM950 479h3v1h-3zM953 480h1v1h-1zM954 481h2v1h-2zM955 481v1h1v-1zM956 482v2h1v-2zM957 484v2h1v-2zM958 486v2h1v-2zM959 488v1h1v-1zM960 489v2h1v-2zM961 491v2h1v-2zM962 493v2h1v-2zM963 495v1h1v-1zM963 495v1h1v-1zM964 496v2h1v-2zM965 498v2h1v-2zM966 500v2h1v-2zM967 502v2h1v-2zM968 504v2h1v-2zM969 506v2h1v-2zM970 508v2h1v-2zM971 510v1h1v-1zM971 510v1h1v-1zM972 511v1h1v-1zM973 512v2h1v-2zM974 514v1h1v-1zM975 515v1h1v-1zM976 516v1h1v-1zM977 517v2h1v-2zM978 519v1h1v-1zM979 520v1h1v-1zM979 520h1v1h-1zM980 521h2v1h-2zM982 522h2v1h-2zM984 523h1v1h-1zM985 524h2v1h-2zM987 525h1v1h-1zM987 525h2v1h-2zM989 526h1v1h-1zM990 527h3v1h-3zM993 528h1v1h-1zM994 529h2v1h-2zM995 529h3v1h-3zM998 530h3v1h-3zM1001 531h3v1h-3zM1003 531h1v1h-1zM1004 532h2v1h-2zM1006 533h2v1h-2zM1008 534h1v1h-1zM1009 535h2v1h-2zM1011 536h1v1h-1zM1011 536h2v1h-2zM1013 537h1v1h-1zM1014 538h3v1h-3zM1017 539h1v1h-1zM1018 540h2v1h-2zM1019 540h3v1h-3zM1022 541h3v1h-3zM1025 542h3v1h-3zM1027 542h5v1h-5zM1032 543h4v1h-4zM1035 543h9v1h-9zM1043 543h5v1h-5zM1048 544h4v1h-4zM1051 544h9v1h-9zM1059 544h3v1h-3zM1062 543h3v1h-3zM1065 542h3v1h-3zM1067 542h5v1h-5zM1072 541h4v1h-4zM1075 541h3v1h-3zM1078 540h3v1h-3zM1081 539h3v1h-3zM1083 539h2v1h-2zM1085 538h2v1h-2zM1087 537h3v1h-3zM1090 536h2v1h-2zM1091 536h3v1h-3zM1094 535h3v1h-3zM1097 534h3v1h-3zM1099 534h9v1h-9zM1107 534h5v1h-5zM1112 535h4v1h-4zM1115 535h3v1h-3zM1118 534h3v1h-3zM1121 533h3v1h-3zM1123 533h2v1h-2zM1125 532h2v1h-2zM1127 531h3v1h-3zM1130 530h2v1h-2zM1131 530h3v1h-3zM1134 529h3v1h-3zM1137 528h3v1h-3zM1139 528h9v1h-9zM1147 528h5v1h-5zM1152 529h4v1h-4zM1155 529h2v1h-2zM1157 530h2v1h-2zM1159 531h3v1h-3zM1162 532h2v1h-2zM1163 532h1v1h-1zM1164 533h2v1h-2zM1166 534h2v1h-2zM1168 535h1v1h-1zM1169 536h2v1h-2zM1171 537h1v1h-1zM1171 537h1v1h-1zM1172 538h1v1h-1zM1173 539h1v1h-1zM1174 540h1v1h-1zM1175 541h2v1h-2zM1177 542h1v1h-1zM1178 543h1v1h-1zM1179 544h1v1h-1zM1179 544h2v1h-2zM1181 545h1v1h-1zM1182 546h3v1h-3zM1185 547h1v1h-1zM1186 548h2v1h-2zM1187 548h2v1h-2zM1189 549h2v1h-2zM1191 550h3v1h-3zM1194 551h2v1h-2zM1195 551h1v1h-1zM1196 552h2v1h-2zM1198 553h2v1h-2zM1200 554h1v1h-1zM1201 555h2v1h-2zM1203 556h1v1h-1zM1203 556h1v1h-1zM1204 557h2v1h-2zM1206 558h2v1h-2zM1208 559h1v1h-1zM1209 560h2v1h-2zM1211 561h1v1h-1zM1211 561h3v1h-3zM1214 562h3v1h-3zM1217 563h3v1h-3zM1219 563h5v1h-5zM1224 562h4v1h-4zM1227 562h5v1h-5zM1232 561h4v1h-4zM1235 561h3v1h-3zM1238 560h3v1h-3zM1241 559h3v1h-3zM1243 559h5v1h-5zM1248 558h4v1h-4zM1251 558h3v1h-3zM1254 557h3v1h-3zM1257 556h3v1h-3zM1259 556h3v1h-3zM1262 557h3v1h-3zM1265 558h3v1h-3zM1267 558h3v1h-3zM1270 559h3v1h-3zM1273 560h3v1h-3zM1275 560h11v1h-11zM1285 560h5v1h-5zM1290 561h8v1h-8zM1298 562h5v1h-5zM1302 562h3v1h-3zM1305 563h4v1h-4zM1309 564h3v1h-3zM1311 564h2v1h-2zM1313 565h1v1h-1zM1314 566h3v1h-3zM1317 567h1v1h-1zM1317 567h1v1h-1zM1318 568h2v1h-2zM1320 569h2v1h-2zM1322 570h1v1h-1zM1322 570h4v1h-4zM1326 569h3v1h-3zM1328 569h2v1h-2zM1330 568h2v1h-2zM1332 567h2v1h-2zM1334 566h2v1h-2zM1336 565h2v1h-2zM1338 564h2v1h-2zM1339 564h1v1h-1zM1340 563h1v1h-1zM1341 562h2v1h-2zM1343 561h1v1h-1zM1344 560h2v1h-2zM1346 559h1v1h-1zM1347 558h1v1h-1zM1347 558h1v1h-1zM1348 557h2v1h-2zM1350 556h2v1h-2zM1352 555h1v1h-1zM1353 554h2v1h-2zM1355 553h1v1h-1zM1355 553v1h1v-1zM1356 552v1h1v-1zM1357 551v1h1v-1zM1358 550v1h1v-1zM1359 548v2h1v-2zM1360 547v1h1v-1zM1361 546v1h1v-1zM1362 545v1h1v-1zM1363 544v1h1v-1zM1363 544v1h1v-1zM1364 543v1h1v-1zM1365 542v1h1v-1zM1366 541v1h1v-1zM1367 539v2h1v-2zM1368 538v1h1v-1zM1369 537v1h1v-1zM1370 536v1h1v-1zM1371 535v1h1v-1zM1371 535h1v1h-1zM1372 534h2v1h-2zM1374 533h2v1h-2zM1376 532h1v1h-1zM1377 531h2v1h-2zM1379 530h1v1h-1zM1379 530h2v1h-2zM1381 529h2v1h-2zM1383 528h3v1h-3zM1386 527h2v1h-2zM1387 527h2v1h-2zM1389 526h2v1h-2zM1391 525h3v1h-3zM1394 524h2v1h-2zM1395 524h3v1h-3zM1398 523h3v1h-3zM1401 522h3v1h-3zM1403 522h2v1h-2zM1405 521h1v1h-1zM1406 520h3v1h-3zM1409 519h1v1h-1zM1410 518h2v1h-2z" fill="#1FA25B"/>
<g fill="#000"><rect x="115" y="100" width="1" height="30"/><rect x="113" y="100" width="5" height="23"/><rect x="123" y="112" width="1" height="18"/><rect x="121" y="119" width="5" height="4"/><rect x="122" y="120" width="3" height="2" fill="#fff"/><rect x="131" y="100" width="1" height="21"/><rect x="129" y="100" width="5" height="20"/><rect x="130" y="101" width="3" height="18" fill="#fff"/><rect x="139" y="100" width="1" height="8"/><rect x="137" y="100" width="5" height="4"/><rect x="147" y="100" width="1" height="26"/><rect x="145" y="100" width="5" height="21"/><rect x="155" y="111" width="1" height="20"/><rect x="153" y="119" width="5" height="9"/><rect x="163" y="112" width="1" height="22"/><rect x="161" y="117" width="5" height="11"/><rect x="162" y="118" width="3" height="9" fill="#fff"/><rect x="171" y="112" width="1" height="12"/><rect x="169" y="117" width="5" height="5"/><rect x="179" y="121" width="1" height="11"/><rect x="177" y="123" width="5" height="7"/><rect x="187" y="128" width="1" height="24"/><rect x="185" y="129" width="5" height="23"/><rect x="195" y="135" width="1" height="23"/><rect x="193" y="139" width="5" height="12"/><rect x="194" y="140" width="3" height="10" fill="#fff"/><rect x="203" y="134" width="1" height="20"/><rect x="201" y="138" width="5" height="16"/><rect x="211" y="134" width="1" height="28"/><rect x="209" y="137" width="5" height="16"/><rect x="210" y="138" width="3" height="14" fill="#fff"/><rect x="219" y="140" width="1" height="13"/><rect x="217" y="144" width="5" height="4"/><rect x="227" y="144" width="1" height="12"/><rect x="225" y="147" width="5" height="6"/><rect x="235" y="151" width="1" height="25"/><rect x="233" y="152" width="5" height="24"/><rect x="243" y="160" width="1" height="22"/><rect x="241" y="168" width="5" height="8"/><rect x="242" y="169" width="3" height="6" fill="#fff"/><rect x="251" y="166" width="1" height="25"/><rect x="249" y="167" width="5" height="21"/><rect x="259" y="186" width="1" height="16"/><rect x="257" y="193" width="5" height="5"/><rect x="267" y="196" width="1" height="31"/><rect x="265" y="199" width="5" height="12"/><rect x="275" y="205" width="1" height="14"/><rect x="273" y="211" width="5" height="1"/><rect x="283" y="196" width="1" height="22"/><rect x="281" y="198" width="5" height="12"/><rect x="282" y="199" width="3" height="10" fill="#fff"/><rect x="291" y="196" width="1" height="13"/><rect x="289" y="198" width="5" height="10"/><rect x="299" y="204" width="1" height="11"/><rect x="297" y="206" width="5" height="5"/><rect x="307" y="190" width="1" height="25"/><rect x="305" y="191" width="5" height="19"/><rect x="306" y="192" width="3" height="17" fill="#fff"/><rect x="315" y="187" width="1" height="26"/><rect x="313" y="190" width="5" height="20"/><rect x="323" y="200" width="1" height="17"/><rect x="321" y="204" width="5" height="5"/><rect x="322" y="205" width="3" height="3" fill="#fff"/><rect x="331" y="203" width="1" height="8"/><rect x="329" y="204" width="5" height="6"/><rect x="339" y="208" width="1" height="25"/><rect x="337" y="209" width="5" height="21"/><rect x="347" y="228" width="1" height="37"/><rect x="345" y="229" width="5" height="24"/><rect x="355" y="248" width="1" height="37"/><rect x="353" y="252" width="5" height="25"/><rect x="363" y="251" width="1" height="28"/><rect x="361" y="276" width="5" height="1"/><rect x="371" y="254" width="1" height="28"/><rect x="369" y="255" width="5" height="22"/><rect x="370" y="256" width="3" height="20" fill="#fff"/><rect x="379" y="230" width="1" height="46"/><rect x="377" y="246" width="5" height="17"/><rect x="378" y="247" width="3" height="15" fill="#fff"/><rect x="387" y="236" width="1" height="24"/><rect x="385" y="245" width="5" height="5"/><rect x="395" y="213" width="1" height="42"/><rect x="393" y="218" width="5" height="31"/><rect x="394" y="219" width="3" height="29" fill="#fff"/><rect x="403" y="199" width="1" height="32"/><rect x="401" y="218" width="5" height="5"/><rect x="411" y="200" width="1" height="28"/><rect x="409" y="212" width="5" height="11"/><rect x="410" y="213" width="3" height="9" fill="#fff"/><rect x="419" y="208" width="1" height="21"/><rect x="417" y="216" width="5" height="9"/><rect x="427" y="212" width="1" height="14"/><rect x="425" y="223" width="5" height="2"/><rect x="435" y="217" width="1" height="37"/><rect x="433" y="222" width="5" height="29"/><rect x="443" y="244" width="1" height="50"/><rect x="441" y="250" width="5" height="28"/><rect x="451" y="255" width="1" height="24"/><rect x="449" y="274" width="5" height="5"/><rect x="450" y="275" width="3" height="3" fill="#fff"/><rect x="459" y="272" width="1" height="36"/><rect x="457" y="276" width="5" height="26"/><rect x="467" y="278" width="1" height="28"/><rect x="465" y="279" width="5" height="23"/><rect x="466" y="280" width="3" height="21" fill="#fff"/><rect x="475" y="274" width="1" height="23"/><rect x="473" y="279" width="5" height="13"/><rect x="483" y="279" width="1" height="20"/><rect x="481" y="288" width="5" height="3"/><rect x="482" y="289" width="3" height="1" fill="#fff"/><rect x="491" y="284" width="1" height="53"/><rect x="489" y="288" width="5" height="42"/><rect x="499" y="272" width="1" height="40"/><rect x="497" y="282" width="5" height="9"/><rect x="498" y="283" width="3" height="7" fill="#fff"/><rect x="507" y="265" width="1" height="30"/><rect x="505" y="282" width="5" height="4"/><rect x="515" y="282" width="1" height="34"/><rect x="513" y="285" width="5" height="21"/><rect x="523" y="292" width="1" height="26"/><rect x="521" y="305" width="5" height="3"/><rect x="531" y="302" width="1" height="28"/><rect x="529" y="307" width="5" height="16"/><rect x="539" y="318" width="1" height="26"/><rect x="537" y="324" width="5" height="13"/><rect x="547" y="331" width="1" height="24"/><rect x="545" y="336" width="5" height="16"/><rect x="555" y="349" width="1" height="29"/><rect x="553" y="351" width="5" height="12"/><rect x="563" y="336" width="1" height="30"/><rect x="561" y="344" width="5" height="17"/><rect x="562" y="345" width="3" height="15" fill="#fff"/><rect x="571" y="331" width="1" height="29"/><rect x="569" y="342" width="5" height="3"/><rect x="579" y="304" width="1" height="45"/><rect x="577" y="319" width="5" height="27"/><rect x="578" y="320" width="3" height="25" fill="#fff"/><rect x="587" y="299" width="1" height="30"/><rect x="585" y="302" width="5" height="16"/><rect x="586" y="303" width="3" height="14" fill="#fff"/><rect x="595" y="287" width="1" height="27"/><rect x="593" y="300" width="5" height="3"/><rect x="594" y="301" width="3" height="1" fill="#fff"/><rect x="603" y="295" width="1" height="24"/><rect x="601" y="298" width="5" height="17"/><rect x="611" y="311" width="1" height="27"/><rect x="609" y="314" width="5" height="9"/><rect x="619" y="315" width="1" height="17"/><rect x="617" y="322" width="5" height="8"/><rect x="627" y="321" width="1" height="39"/><rect x="625" y="329" width="5" height="22"/><rect x="635" y="258" width="1" height="127"/><rect x="633" y="350" width="5" height="30"/><rect x="643" y="348" width="1" height="51"/><rect x="641" y="380" width="5" height="12"/><rect x="651" y="376" width="1" height="36"/><rect x="649" y="391" width="5" height="20"/><rect x="659" y="359" width="1" height="83"/><rect x="657" y="386" width="5" height="30"/><rect x="658" y="387" width="3" height="28" fill="#fff"/><rect x="667" y="377" width="1" height="34"/><rect x="665" y="386" width="5" height="14"/><rect x="675" y="376" width="1" height="38"/><rect x="673" y="387" width="5" height="13"/><rect x="674" y="388" width="3" height="11" fill="#fff"/><rect x="683" y="371" width="1" height="28"/><rect x="681" y="387" width="5" height="3"/><rect x="691" y="377" width="1" height="23"/><rect x="689" y="389" width="5" height="11"/><rect x="699" y="405" width="1" height="23"/><rect x="697" y="408" width="5" height="19"/><rect x="707" y="426" width="1" height="19"/><rect x="705" y="426" width="5" height="18"/><rect x="715" y="426" width="1" height="30"/><rect x="713" y="426" width="5" height="17"/><rect x="714" y="427" width="3" height="15" fill="#fff"/><rect x="723" y="407" width="1" height="30"/><rect x="721" y="417" width="5" height="9"/><rect x="722" y="418" width="3" height="7" fill="#fff"/><rect x="731" y="417" width="1" height="23"/><rect x="729" y="417" width="5" height="22"/><rect x="739" y="409" width="1" height="37"/><rect x="737" y="421" width="5" height="14"/><rect x="738" y="422" width="3" height="12" fill="#fff"/><rect x="747" y="402" width="1" height="24"/><rect x="745" y="420" width="5" height="2"/><rect x="755" y="413" width="1" height="19"/><rect x="753" y="421" width="5" height="7"/><rect x="763" y="421" width="1" height="16"/><rect x="761" y="425" width="5" height="3"/><rect x="762" y="426" width="3" height="1" fill="#fff"/><rect x="771" y="416" width="1" height="14"/><rect x="769" y="424" width="5" height="3"/><rect x="770" y="425" width="3" height="1" fill="#fff"/><rect x="779" y="409" width="1" height="20"/><rect x="777" y="417" width="5" height="8"/><rect x="778" y="418" width="3" height="6" fill="#fff"/><rect x="787" y="414" width="1" height="31"/><rect x="785" y="417" width="5" height="27"/><rect x="795" y="430" width="1" height="19"/><rect x="793" y="443" width="5" height="3"/><rect x="803" y="437" width="1" height="24"/><rect x="801" y="445" width="5" height="6"/><rect x="811" y="447" width="1" height="29"/><rect x="809" y="451" width="5" height="22"/><rect x="819" y="452" width="1" height="21"/><rect x="817" y="465" width="5" height="4"/><rect x="818" y="466" width="3" height="2" fill="#fff"/><rect x="827" y="459" width="1" height="17"/><rect x="825" y="464" width="5" height="1"/><rect x="835" y="447" width="1" height="37"/><rect x="833" y="459" width="5" height="6"/><rect x="834" y="460" width="3" height="4" fill="#fff"/><rect x="843" y="443" width="1" height="19"/><rect x="841" y="453" width="5" height="5"/><rect x="842" y="454" width="3" height="3" fill="#fff"/><rect x="851" y="448" width="1" height="16"/><rect x="849" y="449" width="5" height="5"/><rect x="850" y="450" width="3" height="3" fill="#fff"/><rect x="859" y="453" width="1" height="15"/><rect x="857" y="456" width="5" height="3"/><rect x="867" y="444" width="1" height="25"/><rect x="865" y="457" width="5" height="12"/><rect x="875" y="458" width="1" height="20"/><rect x="873" y="467" width="5" height="7"/><rect x="883" y="467" width="1" height="15"/><rect x="881" y="469" width="5" height="5"/><rect x="882" y="470" width="3" height="3" fill="#fff"/><rect x="891" y="454" width="1" height="19"/><rect x="889" y="463" width="5" height="6"/><rect x="890" y="464" width="3" height="4" fill="#fff"/><rect x="899" y="438" width="1" height="25"/><rect x="897" y="455" width="5" height="7"/><rect x="898" y="456" width="3" height="5" fill="#fff"/><rect x="907" y="442" width="1" height="15"/><rect x="905" y="451" width="5" height="4"/><rect x="906" y="452" width="3" height="2" fill="#fff"/><rect x="915" y="443" width="1" height="23"/><rect x="913" y="450" width="5" height="6"/><rect x="923" y="453" width="1" height="17"/><rect x="921" y="454" width="5" height="16"/><rect x="931" y="451" width="1" height="19"/><rect x="929" y="456" width="5" height="11"/><rect x="930" y="457" width="3" height="9" fill="#fff"/><rect x="939" y="455" width="1" height="16"/><rect x="937" y="456" width="5" height="11"/><rect x="947" y="462" width="1" height="19"/><rect x="945" y="465" width="5" height="13"/><rect x="955" y="467" width="1" height="25"/><rect x="953" y="477" width="5" height="5"/><rect x="963" y="486" width="1" height="45"/><rect x="961" y="488" width="5" height="32"/><rect x="971" y="516" width="1" height="38"/><rect x="969" y="519" width="5" height="15"/><rect x="979" y="516" width="1" height="27"/><rect x="977" y="524" width="5" height="9"/><rect x="978" y="525" width="3" height="7" fill="#fff"/><rect x="987" y="499" width="1" height="35"/><rect x="985" y="509" width="5" height="15"/><rect x="986" y="510" width="3" height="13" fill="#fff"/><rect x="995" y="500" width="1" height="21"/><rect x="993" y="508" width="5" height="1"/><rect x="1003" y="489" width="1" height="19"/><rect x="1001" y="502" width="5" height="2"/><rect x="1011" y="499" width="1" height="31"/><rect x="1009" y="502" width="5" height="28"/><rect x="1019" y="506" width="1" height="25"/><rect x="1017" y="510" width="5" height="18"/><rect x="1018" y="511" width="3" height="16" fill="#fff"/><rect x="1027" y="499" width="1" height="17"/><rect x="1025" y="509" width="5" height="1"/><rect x="1035" y="493" width="1" height="20"/><rect x="1033" y="493" width="5" height="15"/><rect x="1034" y="494" width="3" height="13" fill="#fff"/><rect x="1043" y="480" width="1" height="18"/><rect x="1041" y="486" width="5" height="7"/><rect x="1042" y="487" width="3" height="5" fill="#fff"/><rect x="1051" y="482" width="1" height="21"/><rect x="1049" y="484" width="5" height="18"/><rect x="1059" y="497" width="1" height="17"/><rect x="1057" y="501" width="5" height="9"/><rect x="1067" y="505" width="1" height="13"/><rect x="1065" y="509" width="5" height="1"/><rect x="1075" y="482" width="1" height="28"/><rect x="1073" y="484" width="5" height="25"/><rect x="1074" y="485" width="3" height="23" fill="#fff"/><rect x="1083" y="483" width="1" height="12"/><rect x="1081" y="487" width="5" height="5"/><rect x="1091" y="489" width="1" height="18"/><rect x="1089" y="491" width="5" height="12"/><rect x="1099" y="472" width="1" height="37"/><rect x="1097" y="472" width="5" height="31"/><rect x="1098" y="473" width="3" height="29" fill="#fff"/><rect x="1107" y="469" width="1" height="37"/><rect x="1105" y="472" width="5" height="34"/><rect x="1115" y="496" width="1" height="35"/><rect x="1113" y="505" width="5" height="17"/><rect x="1123" y="498" width="1" height="30"/><rect x="1121" y="506" width="5" height="12"/><rect x="1122" y="507" width="3" height="10" fill="#fff"/><rect x="1131" y="501" width="1" height="18"/><rect x="1129" y="504" width="5" height="11"/><rect x="1139" y="507" width="1" height="11"/><rect x="1137" y="513" width="5" height="4"/><rect x="1147" y="499" width="1" height="18"/><rect x="1145" y="505" width="5" height="12"/><rect x="1146" y="506" width="3" height="10" fill="#fff"/><rect x="1155" y="491" width="1" height="24"/><rect x="1153" y="504" width="5" height="11"/><rect x="1163" y="511" width="1" height="21"/><rect x="1161" y="515" width="5" height="11"/><rect x="1171" y="523" width="1" height="27"/><rect x="1169" y="525" width="5" height="24"/><rect x="1179" y="535" width="1" height="18"/><rect x="1177" y="541" width="5" height="7"/><rect x="1178" y="542" width="3" height="5" fill="#fff"/><rect x="1187" y="535" width="1" height="15"/><rect x="1185" y="540" width="5" height="7"/><rect x="1195" y="532" width="1" height="17"/><rect x="1193" y="545" width="5" height="1"/><rect x="1203" y="544" width="1" height="19"/><rect x="1201" y="546" width="5" height="14"/><rect x="1211" y="536" width="1" height="27"/><rect x="1209" y="536" width="5" height="24"/><rect x="1210" y="537" width="3" height="22" fill="#fff"/><rect x="1219" y="522" width="1" height="15"/><rect x="1217" y="534" width="5" height="2"/><rect x="1227" y="504" width="1" height="35"/><rect x="1225" y="514" width="5" height="20"/><rect x="1226" y="515" width="3" height="18" fill="#fff"/><rect x="1235" y="507" width="1" height="22"/><rect x="1233" y="512" width="5" height="3"/><rect x="1234" y="513" width="3" height="1" fill="#fff"/><rect x="1243" y="500" width="1" height="23"/><rect x="1241" y="511" width="5" height="12"/><rect x="1242" y="512" width="3" height="10" fill="#fff"/><rect x="1251" y="502" width="1" height="19"/><rect x="1249" y="512" width="5" height="4"/><rect x="1259" y="510" width="1" height="20"/><rect x="1257" y="515" width="5" height="10"/><rect x="1267" y="481" width="1" height="46"/><rect x="1265" y="482" width="5" height="42"/><rect x="1266" y="483" width="3" height="40" fill="#fff"/><rect x="1275" y="480" width="1" height="30"/><rect x="1273" y="482" width="5" height="11"/><rect x="1283" y="499" width="1" height="11"/><rect x="1281" y="504" width="5" height="6"/><rect x="1291" y="494" width="1" height="18"/><rect x="1289" y="502" width="5" height="7"/><rect x="1290" y="503" width="3" height="5" fill="#fff"/><rect x="1299" y="497" width="1" height="19"/><rect x="1297" y="497" width="5" height="5"/><rect x="1298" y="498" width="3" height="3" fill="#fff"/><rect x="1307" y="487" width="1" height="18"/><rect x="1305" y="490" width="5" height="7"/><rect x="1306" y="491" width="3" height="5" fill="#fff"/><rect x="1315" y="458" width="1" height="41"/><rect x="1313" y="470" width="5" height="20"/><rect x="1314" y="471" width="3" height="18" fill="#fff"/><rect x="1323" y="437" width="1" height="34"/><rect x="1321" y="441" width="5" height="30"/><rect x="1322" y="442" width="3" height="28" fill="#fff"/><rect x="1331" y="430" width="1" height="42"/><rect x="1329" y="441" width="5" height="25"/><rect x="1339" y="464" width="1" height="24"/><rect x="1337" y="465" width="5" height="16"/><rect x="1347" y="480" width="1" height="21"/><rect x="1345" y="481" width="5" height="15"/><rect x="1355" y="469" width="1" height="31"/><rect x="1353" y="481" width="5" height="15"/><rect x="1354" y="482" width="3" height="13" fill="#fff"/><rect x="1363" y="467" width="1" height="20"/><rect x="1361" y="483" width="5" height="1"/><rect x="1371" y="481" width="1" height="6"/><rect x="1369" y="481" width="5" height="2"/><rect x="1379" y="481" width="1" height="13"/><rect x="1377" y="481" width="5" height="11"/><rect x="1387" y="469" width="1" height="24"/><rect x="1385" y="481" width="5" height="11"/><rect x="1386" y="482" width="3" height="9" fill="#fff"/><rect x="1395" y="463" width="1" height="13"/><rect x="1393" y="474" width="5" height="1"/><rect x="1403" y="468" width="1" height="7"/><rect x="1401" y="470" width="5" height="3"/><rect x="1411" y="465" width="1" height="11"/><rect x="1409" y="465" width="5" height="11"/><rect x="1410" y="466" width="3" height="9" fill="#fff"/></g>
<rect x="1016" y="472" width="441" height="8" fill="#00FF00"/>
</g>
<rect x="564.5" y="249.5" width="61" height="18" fill="#fff" stroke="#f00" stroke-width="1" shape-rendering="crispEdges"/><text x="595.0" y="263.5" font-size="17" fill="#f00" text-anchor="middle" font-family="Liberation Sans, sans-serif"  textLength="57" lengthAdjust="spacingAndGlyphs">6.77266</text>
<rect x="626" y="258" width="10" height="1" fill="#f00" shape-rendering="crispEdges"/>
<rect x="900.5" y="543.5" width="61" height="18" fill="#fff" stroke="#f00" stroke-width="1" shape-rendering="crispEdges"/><text x="931.0" y="557.5" font-size="17" fill="#f00" text-anchor="middle" font-family="Liberation Sans, sans-serif"  textLength="57" lengthAdjust="spacingAndGlyphs">6.41173</text>
<rect x="961" y="552" width="11" height="1" fill="#f00" shape-rendering="crispEdges"/>
<rect x="1140.5" y="554.5" width="61" height="18" fill="#fff" stroke="#f00" stroke-width="1" shape-rendering="crispEdges"/><text x="1171.0" y="568.5" font-size="17" fill="#f00" text-anchor="middle" font-family="Liberation Sans, sans-serif"  textLength="57" lengthAdjust="spacingAndGlyphs">6.39876</text>
<rect x="1202" y="563" width="10" height="1" fill="#f00" shape-rendering="crispEdges"/>
<rect x="1260.5" y="420.5" width="61" height="18" fill="#fff" stroke="#f00" stroke-width="1" shape-rendering="crispEdges"/><text x="1291.0" y="434.5" font-size="17" fill="#f00" text-anchor="middle" font-family="Liberation Sans, sans-serif"  textLength="57" lengthAdjust="spacingAndGlyphs">6.56217</text>
<rect x="1321" y="429" width="11" height="1" fill="#f00" shape-rendering="crispEdges"/>
<line x1="1203.4" y1="553.6" x2="1326.5" y2="445.4" stroke="#f00" stroke-width="3.2"/><polygon points="1334.0,438.8 1328.1,450.3 1321.9,443.2" fill="#f00"/>
<line x1="1334.0" y1="440.0" x2="1348.7" y2="485.5" stroke="#f00" stroke-width="3.2"/><polygon points="1351.8,495.0 1343.6,485.0 1352.6,482.1" fill="#f00"/>
<line x1="1351.8" y1="494.3" x2="1439.0" y2="465.7" stroke="#f00" stroke-width="3.2"/><polygon points="1448.5,462.6 1438.6,470.9 1435.6,461.8" fill="#f00"/>
<rect x="1492.5" y="466.5" width="110" height="24" fill="none" stroke="#404040" stroke-width="1" shape-rendering="crispEdges"/>
<text x="1546.6" y="485.5" font-size="21" fill="#00FF00" text-anchor="middle" font-family="Noto Serif CJK SC, Liberation Serif, serif" textLength="106" lengthAdjust="spacingAndGlyphs">多空转折点</text>
<circle cx="1546.5" cy="465" r="1.5" fill="none" stroke="#00c000" stroke-width="0.8"/>
<defs>
<linearGradient id="gt" x1="0" y1="0" x2="0" y2="1"><stop offset="0" stop-color="#5555F8"/><stop offset="1" stop-color="#3636D6"/></linearGradient>
<linearGradient id="gb" x1="0" y1="0" x2="0" y2="1"><stop offset="0" stop-color="#3434E0"/><stop offset="0.5" stop-color="#1C1CC8"/><stop offset="1" stop-color="#0000A8"/></linearGradient>
<linearGradient id="gbtn" x1="0" y1="0" x2="0" y2="1"><stop offset="0" stop-color="#f4f4f4"/><stop offset="0.5" stop-color="#e4e4e4"/><stop offset="0.5" stop-color="#d4d4d4"/><stop offset="1" stop-color="#cfcfcf"/></linearGradient>
</defs>
<rect x="0" y="40" width="218" height="68" fill="#fff"/>
<rect x="0" y="42" width="50" height="24" fill="url(#gt)"/>
<rect x="165" y="42" width="52" height="24" fill="url(#gt)"/>
<rect x="0" y="42" width="50" height="1" fill="#2020c8"/><rect x="165" y="42" width="52" height="1" fill="#2020c8"/><rect x="216" y="42" width="1" height="24" fill="#2828c8"/><rect x="165" y="42" width="1" height="24" fill="#2828c8"/><rect x="49" y="42" width="1" height="24" fill="#2828c8"/>
<rect x="0" y="66" width="107" height="40" fill="url(#gb)"/>
<rect x="109" y="66" width="108" height="40" fill="url(#gb)"/>
<rect x="2" y="65" width="44" height="1" fill="#2424b4"/><rect x="2" y="66" width="44" height="1" fill="#6464e6"/>
<rect x="169" y="65" width="44" height="1" fill="#2424b4"/><rect x="169" y="66" width="44" height="1" fill="#6464e6"/>
<rect x="52.5" y="42.5" width="110" height="21" fill="#fff" stroke="#b4b4bc" shape-rendering="crispEdges"/>
<rect x="54" y="44" width="19" height="18" fill="url(#gbtn)"/><rect x="73" y="43" width="1" height="20" fill="#b4b4bc"/>
<rect x="142" y="44" width="19" height="18" fill="url(#gbtn)"/><rect x="141" y="43" width="1" height="20" fill="#b4b4bc"/>
<polygon points="60,50.5 66,50.5 63,54" fill="#5060b0"/>
<polygon points="148,54 154,54 151,50.5" fill="#5060b0"/>
<text x="138" y="57" font-size="12.5" fill="#000" text-anchor="end" font-family="Liberation Sans, sans-serif"  >1.00</text>
<text x="23" y="58" font-size="12" fill="#fff" text-anchor="middle" font-family="Liberation Sans, sans-serif"  textLength="25.5" lengthAdjust="spacingAndGlyphs">SELL</text>
<text x="190" y="58" font-size="12" fill="#fff" text-anchor="middle" font-family="Liberation Sans, sans-serif"  textLength="22.5" lengthAdjust="spacingAndGlyphs">BUY</text>
<text x="17.8" y="97" font-size="12.5" fill="#fff" text-anchor="start" font-family="Liberation Sans, sans-serif"  font-weight="bold">6.51</text>
<text x="46.4" y="96.8" font-size="35" fill="#fff" text-anchor="start" font-family="Liberation Sans, sans-serif"  textLength="34.5" lengthAdjust="spacingAndGlyphs">87</text>
<text x="85.5" y="80.8" font-size="12.5" fill="#fff" text-anchor="start" font-family="Liberation Sans, sans-serif"  font-weight="bold">3</text>
<text x="128" y="97" font-size="12.5" fill="#fff" text-anchor="start" font-family="Liberation Sans, sans-serif"  font-weight="bold">6.52</text>
<text x="157.5" y="96.8" font-size="35" fill="#fff" text-anchor="start" font-family="Liberation Sans, sans-serif"  textLength="34.5" lengthAdjust="spacingAndGlyphs">14</text>
<text x="196.5" y="80.8" font-size="12.5" fill="#fff" text-anchor="start" font-family="Liberation Sans, sans-serif"  font-weight="bold">6</text>
<polygon points="-2,33 1.600,28.800 5.200,33" fill="#000"/>
<text x="10.4" y="34" font-size="9.8" fill="#000" text-anchor="start" font-family="Liberation Sans, sans-serif" stroke="#000" stroke-width="0.3" textLength="68" lengthAdjust="spacingAndGlyphs">USDCNH-,Daily</text>
<text x="85" y="34" font-size="9.8" fill="#000" text-anchor="start" font-family="Liberation Sans, sans-serif" stroke="#000" stroke-width="0.3" textLength="140.7" lengthAdjust="spacingAndGlyphs">6.50617 6.51909 6.50188 6.51873</text>
<polygon points="1422,22.5 1432,22.5 1427,27.5" fill="#c0c0c0"/>
<g shape-rendering="crispEdges" fill="#000">
<rect x="0" y="22" width="1683" height="1"/>
<rect x="0" y="575" width="1683" height="1"/>
<rect x="0" y="577" width="1683" height="1"/>
<rect x="0" y="747" width="1683" height="1"/>
<rect x="0" y="749" width="1683" height="1"/>
<rect x="0" y="923" width="1683" height="1"/>
<rect x="1682" y="22" width="1" height="902"/>
</g>
<rect x="1683" y="45" width="2" height="1" fill="#000" shape-rendering="crispEdges"/>
<text x="1688" y="49" font-size="9.8" fill="#000" text-anchor="start" font-family="Liberation Sans, sans-serif" stroke="#000" stroke-width="0.3" textLength="33" lengthAdjust="spacingAndGlyphs">7.03570</text>
<rect x="1683" y="78" width="2" height="1" fill="#000" shape-rendering="crispEdges"/>
<text x="1688" y="82" font-size="9.8" fill="#000" text-anchor="start" font-family="Liberation Sans, sans-serif" stroke="#000" stroke-width="0.3" textLength="33" lengthAdjust="spacingAndGlyphs">6.99490</text>
<rect x="1683" y="111" width="2" height="1" fill="#000" shape-rendering="crispEdges"/>
<text x="1688" y="115" font-size="9.8" fill="#000" text-anchor="start" font-family="Liberation Sans, sans-serif" stroke="#000" stroke-width="0.3" textLength="33" lengthAdjust="spacingAndGlyphs">6.95410</text>
<rect x="1683" y="144" width="2" height="1" fill="#000" shape-rendering="crispEdges"/>
<text x="1688" y="148" font-size="9.8" fill="#000" text-anchor="start" font-family="Liberation Sans, sans-serif" stroke="#000" stroke-width="0.3" textLength="33" lengthAdjust="spacingAndGlyphs">6.91450</text>
<rect x="1683" y="177" width="2" height="1" fill="#000" shape-rendering="crispEdges"/>
<text x="1688" y="181" font-size="9.8" fill="#000" text-anchor="start" font-family="Liberation Sans, sans-serif" stroke="#000" stroke-width="0.3" textLength="33" lengthAdjust="spacingAndGlyphs">6.87370</text>
<rect x="1683" y="210" width="2" height="1" fill="#000" shape-rendering="crispEdges"/>
<text x="1688" y="214" font-size="9.8" fill="#000" text-anchor="start" font-family="Liberation Sans, sans-serif" stroke="#000" stroke-width="0.3" textLength="33" lengthAdjust="spacingAndGlyphs">6.83290</text>
<rect x="1683" y="243" width="2" height="1" fill="#000" shape-rendering="crispEdges"/>
<text x="1688" y="247" font-size="9.8" fill="#000" text-anchor="start" font-family="Liberation Sans, sans-serif" stroke="#000" stroke-width="0.3" textLength="33" lengthAdjust="spacingAndGlyphs">6.79210</text>
<rect x="1683" y="276" width="2" height="1" fill="#000" shape-rendering="crispEdges"/>
<text x="1688" y="280" font-size="9.8" fill="#000" text-anchor="start" font-family="Liberation Sans, sans-serif" stroke="#000" stroke-width="0.3" textLength="33" lengthAdjust="spacingAndGlyphs">6.75130</text>
<rect x="1683" y="309" width="2" height="1" fill="#000" shape-rendering="crispEdges"/>
<text x="1688" y="313" font-size="9.8" fill="#000" text-anchor="start" font-family="Liberation Sans, sans-serif" stroke="#000" stroke-width="0.3" textLength="33" lengthAdjust="spacingAndGlyphs">6.71170</text>
<rect x="1683" y="341" width="2" height="1" fill="#000" shape-rendering="crispEdges"/>
<text x="1688" y="345" font-size="9.8" fill="#000" text-anchor="start" font-family="Liberation Sans, sans-serif" stroke="#000" stroke-width="0.3" textLength="33" lengthAdjust="spacingAndGlyphs">6.67090</text>
<rect x="1683" y="374" width="2" height="1" fill="#000" shape-rendering="crispEdges"/>
<text x="1688" y="378" font-size="9.8" fill="#000" text-anchor="start" font-family="Liberation Sans, sans-serif" stroke="#000" stroke-width="0.3" textLength="33" lengthAdjust="spacingAndGlyphs">6.63010</text>
<rect x="1683" y="407" width="2" height="1" fill="#000" shape-rendering="crispEdges"/>
<text x="1688" y="411" font-size="9.8" fill="#000" text-anchor="start" font-family="Liberation Sans, sans-serif" stroke="#000" stroke-width="0.3" textLength="33" lengthAdjust="spacingAndGlyphs">6.58930</text>
<rect x="1683" y="440" width="2" height="1" fill="#000" shape-rendering="crispEdges"/>
<text x="1688" y="444" font-size="9.8" fill="#000" text-anchor="start" font-family="Liberation Sans, sans-serif" stroke="#000" stroke-width="0.3" textLength="33" lengthAdjust="spacingAndGlyphs">6.54970</text>
<rect x="1683" y="473" width="2" height="1" fill="#000" shape-rendering="crispEdges"/>
<text x="1688" y="477" font-size="9.8" fill="#000" text-anchor="start" font-family="Liberation Sans, sans-serif" stroke="#000" stroke-width="0.3" textLength="33" lengthAdjust="spacingAndGlyphs">6.50890</text>
<rect x="1683" y="506" width="2" height="1" fill="#000" shape-rendering="crispEdges"/>
<text x="1688" y="510" font-size="9.8" fill="#000" text-anchor="start" font-family="Liberation Sans, sans-serif" stroke="#000" stroke-width="0.3" textLength="33" lengthAdjust="spacingAndGlyphs">6.46810</text>
<rect x="1683" y="539" width="2" height="1" fill="#000" shape-rendering="crispEdges"/>
<text x="1688" y="543" font-size="9.8" fill="#000" text-anchor="start" font-family="Liberation Sans, sans-serif" stroke="#000" stroke-width="0.3" textLength="33" lengthAdjust="spacingAndGlyphs">6.42730</text>
<rect x="1683" y="572" width="2" height="1" fill="#000" shape-rendering="crispEdges"/>
<text x="1688" y="576" font-size="9.8" fill="#000" text-anchor="start" font-family="Liberation Sans, sans-serif" stroke="#000" stroke-width="0.3" textLength="33" lengthAdjust="spacingAndGlyphs">6.38770</text>
<rect x="1684" y="425" width="41" height="11" fill="#FF4500" shape-rendering="crispEdges"/>
<text x="1688" y="434.7" font-size="9.8" fill="#fff" text-anchor="start" font-family="Liberation Sans, sans-serif"  textLength="33" lengthAdjust="spacingAndGlyphs">6.56060</text>
<rect x="1677.5" y="429.5" width="4" height="4" fill="#fff" stroke="#FF4500" stroke-width="1" shape-rendering="crispEdges"/>
<rect x="1684" y="444" width="41" height="11" fill="#FF0000" shape-rendering="crispEdges"/>
<text x="1688" y="453.7" font-size="9.8" fill="#fff" text-anchor="start" font-family="Liberation Sans, sans-serif"  textLength="33" lengthAdjust="spacingAndGlyphs">6.53732</text>
<rect x="1677.5" y="448.5" width="4" height="4" fill="#fff" stroke="#FF0000" stroke-width="1" shape-rendering="crispEdges"/>
<rect x="1684" y="474" width="41" height="11" fill="#FFA500" shape-rendering="crispEdges"/>
<text x="1688" y="483.7" font-size="9.8" fill="#fff" text-anchor="start" font-family="Liberation Sans, sans-serif"  textLength="33" lengthAdjust="spacingAndGlyphs">6.50054</text>
<rect x="1677.5" y="478.5" width="4" height="4" fill="#fff" stroke="#FFA500" stroke-width="1" shape-rendering="crispEdges"/>
<rect x="1684" y="489" width="41" height="11" fill="#0000FF" shape-rendering="crispEdges"/>
<text x="1688" y="498.7" font-size="9.8" fill="#fff" text-anchor="start" font-family="Liberation Sans, sans-serif"  textLength="33" lengthAdjust="spacingAndGlyphs">6.48216</text>
<rect x="1677.5" y="493.5" width="4" height="4" fill="#fff" stroke="#0000FF" stroke-width="1" shape-rendering="crispEdges"/>
<rect x="1684" y="502" width="41" height="11" fill="#0000FF" shape-rendering="crispEdges"/>
<text x="1688" y="511.7" font-size="9.8" fill="#fff" text-anchor="start" font-family="Liberation Sans, sans-serif"  textLength="33" lengthAdjust="spacingAndGlyphs">6.46622</text>
<rect x="1677.5" y="506.5" width="4" height="4" fill="#fff" stroke="#0000FF" stroke-width="1" shape-rendering="crispEdges"/>
<rect x="1684" y="460" width="41" height="11" fill="#000000" shape-rendering="crispEdges"/>
<text x="1688" y="469.2" font-size="9.8" fill="#fff" text-anchor="start" font-family="Liberation Sans, sans-serif"  textLength="33" lengthAdjust="spacingAndGlyphs">6.51873</text>
<g shape-rendering="crispEdges">
<g fill="#C0C0C0"><rect x="3" y="624" width="1" height="68"/><rect x="11" y="624" width="1" height="68"/><rect x="19" y="624" width="1" height="70"/><rect x="27" y="624" width="1" height="73"/><rect x="35" y="624" width="1" height="63"/><rect x="43" y="624" width="1" height="58"/><rect x="51" y="624" width="1" height="52"/><rect x="59" y="624" width="1" height="49"/><rect x="67" y="624" width="1" height="46"/><rect x="75" y="624" width="1" height="44"/><rect x="83" y="624" width="1" height="43"/><rect x="91" y="624" width="1" height="43"/><rect x="99" y="624" width="1" height="43"/><rect x="107" y="624" width="1" height="47"/><rect x="115" y="624" width="1" height="53"/><rect x="123" y="624" width="1" height="58"/><rect x="131" y="624" width="1" height="56"/><rect x="139" y="624" width="1" height="56"/><rect x="147" y="624" width="1" height="53"/><rect x="155" y="624" width="1" height="62"/><rect x="163" y="624" width="1" height="60"/><rect x="171" y="624" width="1" height="60"/><rect x="179" y="624" width="1" height="60"/><rect x="187" y="624" width="1" height="67"/><rect x="195" y="624" width="1" height="68"/><rect x="203" y="624" width="1" height="72"/><rect x="211" y="624" width="1" height="69"/><rect x="219" y="624" width="1" height="69"/><rect x="227" y="624" width="1" height="70"/><rect x="235" y="624" width="1" height="75"/><rect x="243" y="624" width="1" height="77"/><rect x="251" y="624" width="1" height="83"/><rect x="259" y="624" width="1" height="89"/><rect x="267" y="624" width="1" height="96"/><rect x="275" y="624" width="1" height="100"/><rect x="283" y="624" width="1" height="100"/><rect x="291" y="624" width="1" height="100"/><rect x="299" y="624" width="1" height="100"/><rect x="307" y="624" width="1" height="94"/><rect x="315" y="624" width="1" height="94"/><rect x="323" y="624" width="1" height="90"/><rect x="331" y="624" width="1" height="87"/><rect x="339" y="624" width="1" height="90"/><rect x="347" y="624" width="1" height="94"/><rect x="355" y="624" width="1" height="108"/><rect x="363" y="624" width="1" height="114"/><rect x="371" y="624" width="1" height="112"/><rect x="379" y="624" width="1" height="109"/><rect x="387" y="624" width="1" height="104"/><rect x="395" y="624" width="1" height="91"/><rect x="403" y="624" width="1" height="82"/><rect x="411" y="624" width="1" height="70"/><rect x="419" y="624" width="1" height="64"/><rect x="427" y="624" width="1" height="58"/><rect x="435" y="624" width="1" height="59"/><rect x="443" y="624" width="1" height="67"/><rect x="451" y="624" width="1" height="72"/><rect x="459" y="624" width="1" height="81"/><rect x="467" y="624" width="1" height="83"/><rect x="475" y="624" width="1" height="85"/><rect x="483" y="624" width="1" height="85"/><rect x="491" y="624" width="1" height="95"/><rect x="499" y="624" width="1" height="91"/><rect x="507" y="624" width="1" height="85"/><rect x="515" y="624" width="1" height="87"/><rect x="523" y="624" width="1" height="87"/><rect x="531" y="624" width="1" height="89"/><rect x="539" y="624" width="1" height="94"/><rect x="547" y="624" width="1" height="102"/><rect x="555" y="624" width="1" height="109"/><rect x="563" y="624" width="1" height="109"/><rect x="571" y="624" width="1" height="107"/><rect x="579" y="624" width="1" height="99"/><rect x="587" y="624" width="1" height="85"/><rect x="595" y="624" width="1" height="73"/><rect x="603" y="624" width="1" height="67"/><rect x="611" y="624" width="1" height="63"/><rect x="619" y="624" width="1" height="63"/><rect x="627" y="624" width="1" height="65"/><rect x="635" y="624" width="1" height="75"/><rect x="643" y="624" width="1" height="85"/><rect x="651" y="624" width="1" height="96"/><rect x="659" y="624" width="1" height="99"/><rect x="667" y="624" width="1" height="103"/><rect x="675" y="624" width="1" height="100"/><rect x="683" y="624" width="1" height="99"/><rect x="691" y="624" width="1" height="99"/><rect x="699" y="624" width="1" height="104"/><rect x="707" y="624" width="1" height="113"/><rect x="715" y="624" width="1" height="114"/><rect x="723" y="624" width="1" height="110"/><rect x="731" y="624" width="1" height="111"/><rect x="739" y="624" width="1" height="107"/><rect x="747" y="624" width="1" height="103"/><rect x="755" y="624" width="1" height="99"/><rect x="763" y="624" width="1" height="95"/><rect x="771" y="624" width="1" height="90"/><rect x="779" y="624" width="1" height="84"/><rect x="787" y="624" width="1" height="84"/><rect x="795" y="624" width="1" height="84"/><rect x="803" y="624" width="1" height="86"/><rect x="811" y="624" width="1" height="91"/><rect x="819" y="624" width="1" height="90"/><rect x="827" y="624" width="1" height="92"/><rect x="835" y="624" width="1" height="87"/><rect x="843" y="624" width="1" height="84"/><rect x="851" y="624" width="1" height="77"/><rect x="859" y="624" width="1" height="75"/><rect x="867" y="624" width="1" height="75"/><rect x="875" y="624" width="1" height="74"/><rect x="883" y="624" width="1" height="72"/><rect x="891" y="624" width="1" height="68"/><rect x="899" y="624" width="1" height="63"/><rect x="907" y="624" width="1" height="57"/><rect x="915" y="624" width="1" height="53"/><rect x="923" y="624" width="1" height="51"/><rect x="931" y="624" width="1" height="47"/><rect x="939" y="624" width="1" height="46"/><rect x="947" y="624" width="1" height="47"/><rect x="955" y="624" width="1" height="48"/><rect x="963" y="624" width="1" height="58"/><rect x="971" y="624" width="1" height="67"/><rect x="979" y="624" width="1" height="75"/><rect x="987" y="624" width="1" height="75"/><rect x="995" y="624" width="1" height="74"/><rect x="1003" y="624" width="1" height="70"/><rect x="1011" y="624" width="1" height="73"/><rect x="1019" y="624" width="1" height="70"/><rect x="1027" y="624" width="1" height="65"/><rect x="1035" y="624" width="1" height="60"/><rect x="1043" y="624" width="1" height="56"/><rect x="1051" y="624" width="1" height="53"/><rect x="1059" y="624" width="1" height="50"/><rect x="1067" y="624" width="1" height="43"/><rect x="1075" y="624" width="1" height="38"/><rect x="1083" y="624" width="1" height="32"/><rect x="1091" y="624" width="1" height="30"/><rect x="1099" y="624" width="1" height="23"/><rect x="1107" y="624" width="1" height="24"/><rect x="1115" y="624" width="1" height="28"/><rect x="1123" y="624" width="1" height="30"/><rect x="1131" y="624" width="1" height="27"/><rect x="1139" y="624" width="1" height="28"/><rect x="1147" y="624" width="1" height="29"/><rect x="1155" y="624" width="1" height="29"/><rect x="1163" y="624" width="1" height="30"/><rect x="1171" y="624" width="1" height="38"/><rect x="1179" y="624" width="1" height="42"/><rect x="1187" y="624" width="1" height="46"/><rect x="1195" y="624" width="1" height="48"/><rect x="1203" y="624" width="1" height="53"/><rect x="1211" y="624" width="1" height="51"/><rect x="1219" y="624" width="1" height="47"/><rect x="1227" y="624" width="1" height="38"/><rect x="1235" y="624" width="1" height="30"/><rect x="1243" y="624" width="1" height="25"/><rect x="1251" y="624" width="1" height="21"/><rect x="1259" y="624" width="1" height="18"/><rect x="1267" y="624" width="1" height="7"/><rect x="1275" y="624" width="1" height="1"/><rect x="1283" y="623" width="1" height="1"/><rect x="1291" y="621" width="1" height="3"/><rect x="1299" y="618" width="1" height="6"/><rect x="1307" y="615" width="1" height="9"/><rect x="1315" y="604" width="1" height="20"/><rect x="1323" y="591" width="1" height="33"/><rect x="1331" y="587" width="1" height="37"/><rect x="1339" y="589" width="1" height="35"/><rect x="1347" y="593" width="1" height="31"/><rect x="1355" y="596" width="1" height="28"/><rect x="1363" y="597" width="1" height="27"/><rect x="1371" y="593" width="1" height="31"/><rect x="1379" y="600" width="1" height="24"/><rect x="1387" y="599" width="1" height="25"/><rect x="1395" y="598" width="1" height="26"/><rect x="1403" y="597" width="1" height="27"/><rect x="1411" y="594" width="1" height="30"/></g>
<polyline points="0.0,679.0 11.4,685.7 27.5,690.1 40.3,691.4 59.7,687.4 75.8,682.4 91.9,676.7 107.3,670.6 115.4,670.6 131.5,672.3 144.2,674.0 155.3,677.3 171.4,682.4 187.5,684.7 203.6,687.4 219.7,690.1 235.5,693.4 251.6,696.8 267.7,702.5 283.8,709.2 299.6,715.9 315.7,719.9 331.8,719.9 347.9,719.3 363.6,721.6 379.7,723.6 389.1,726.7 403.9,724.3 420.0,720.3 435.8,707.5 451.9,698.5 468.0,695.1 479.7,695.8 492.1,701.8 507.9,708.5 524.0,710.9 540.1,714.2 556.2,718.3 560.0,718.6 571.4,721.6 587.5,722.0 600.3,719.3 611.7,714.9 627.8,705.2 643.9,699.2 660.0,700.8 675.7,708.2 691.8,716.6 707.9,725.0 724.0,729.3 740.1,731.0 757.9,732.0 772.0,728.3 788.1,722.6 804.2,716.9 820.3,714.2 836.1,711.9 852.2,710.9 868.3,708.5 876.3,707.5 892.4,702.5 908.2,696.8 924.3,689.1 940.4,680.7 956.5,678.0 964.6,677.3 980.7,679.0 996.4,685.7 1012.5,692.4 1028.6,695.1 1039.7,694.8 1052.8,690.1 1068.6,684.1 1084.7,675.7 1100.8,665.6 1116.9,658.9 1133.0,654.5 1149.0,652.2 1163.1,652.2 1171.1,653.9 1179.2,657.2 1195.0,659.9 1203.0,662.3 1211.1,665.6 1219.1,668.0 1227.2,668.6 1237.9,668.3 1251.0,664.9 1267.1,657.9 1275.1,652.2 1283.2,645.5 1291.2,639.8 1299.3,635.4 1307.3,630.4 1315.4,625.4 1323.1,619.6 1331.2,612.9 1339.2,607.6 1347.3,603.5 1355.3,600.9 1363.4,598.2 1371.4,595.2 1379.5,593.5 1387.5,592.8 1395.6,592.5 1411.3,592.1" fill="none" stroke="#FF0000" stroke-width="1" stroke-dasharray="3 3"/>
</g>
<line x1="873.7" y1="720.0" x2="1342.3" y2="596.3" stroke="#f00" stroke-width="3.6"/><polygon points="1351.0,594.0 1341.6,601.6 1339.1,592.0" fill="#f00"/>
<line x1="1341.0" y1="594.5" x2="1404.0" y2="592.7" stroke="#f00" stroke-width="3.6"/><polygon points="1413.0,592.5 1402.1,597.8 1401.9,587.8" fill="#f00"/>
<text x="0" y="589.5" font-size="9.8" fill="#000" text-anchor="start" font-family="Liberation Sans, sans-serif" stroke="#000" stroke-width="0.3" textLength="146.6" lengthAdjust="spacingAndGlyphs">MACD(12,26,9) 0.011028 0.010652</text>
<rect x="1683" y="579" width="2" height="1" fill="#000" shape-rendering="crispEdges"/>
<text x="1686.2" y="588" font-size="9.8" fill="#000" text-anchor="start" font-family="Liberation Sans, sans-serif" stroke="#000" stroke-width="0.3" textLength="38.2" lengthAdjust="spacingAndGlyphs">0.017199</text>
<rect x="1683" y="624" width="2" height="1" fill="#000" shape-rendering="crispEdges"/>
<text x="1686.2" y="628" font-size="9.8" fill="#000" text-anchor="start" font-family="Liberation Sans, sans-serif" stroke="#000" stroke-width="0.3" textLength="17.6" lengthAdjust="spacingAndGlyphs">0.00</text>
<rect x="1683" y="746" width="2" height="1" fill="#000" shape-rendering="crispEdges"/>
<text x="1686.2" y="744" font-size="9.8" fill="#000" text-anchor="start" font-family="Liberation Sans, sans-serif" stroke="#000" stroke-width="0.3" textLength="41" lengthAdjust="spacingAndGlyphs">-0.045919</text>
<g shape-rendering="crispEdges">
<line x1="0" y1="785.5" x2="1682" y2="785.5" stroke="#C0C0C0" stroke-width="1" stroke-dasharray="3 3"/>
<line x1="0" y1="836.5" x2="1682" y2="836.5" stroke="#C0C0C0" stroke-width="1" stroke-dasharray="3 3"/>
<line x1="0" y1="897.5" x2="1682" y2="897.5" stroke="#C0C0C0" stroke-width="1" stroke-dasharray="3 3"/>
<path d="M0 866h1v1h-1zM1 865h1v1h-1zM2 864h1v1h-1zM3 863h1v1h-1zM3 863h3v1h-3zM6 864h3v1h-3zM9 865h3v1h-3zM11 865h5v1h-5zM16 866h4v1h-4zM19 866h1v1h-1zM20 867h2v1h-2zM22 868h2v1h-2zM24 869h1v1h-1zM25 870h2v1h-2zM27 871h1v1h-1zM27 870v2h1v-2zM28 866v4h1v-4zM29 863v3h1v-3zM30 859v4h1v-4zM31 856v3h1v-3zM32 852v4h1v-4zM33 849v3h1v-3zM34 845v4h1v-4zM35 843v2h1v-2zM35 843h2v1h-2zM37 844h2v1h-2zM39 845h3v1h-3zM42 846h2v1h-2zM43 846h2v1h-2zM45 845h1v1h-1zM46 844h3v1h-3zM49 843h1v1h-1zM50 842h2v1h-2zM51 842v1h1v-1zM52 843v1h1v-1zM53 844v1h1v-1zM54 845v1h1v-1zM55 846v2h1v-2zM56 848v1h1v-1zM57 849v1h1v-1zM58 850v1h1v-1zM59 851v1h1v-1zM59 851h1v1h-1zM60 850h1v1h-1zM61 849h1v1h-1zM62 848h1v1h-1zM63 847h2v1h-2zM65 846h1v1h-1zM66 845h1v1h-1zM67 844h1v1h-1zM67 844h2v1h-2zM69 845h1v1h-1zM70 846h3v1h-3zM73 847h1v1h-1zM74 848h2v1h-2zM75 848h5v1h-5zM80 849h4v1h-4zM83 849h2v1h-2zM85 850h1v1h-1zM86 851h3v1h-3zM89 852h1v1h-1zM90 853h2v1h-2zM91 853h2v1h-2zM93 854h2v1h-2zM95 855h3v1h-3zM98 856h2v1h-2zM99 856h2v1h-2zM101 857h2v1h-2zM103 858h3v1h-3zM106 859h2v1h-2zM107 859v1h1v-1zM108 860v2h1v-2zM109 862v1h1v-1zM110 863v2h1v-2zM111 865v1h1v-1zM112 866v2h1v-2zM113 868v1h1v-1zM114 869v2h1v-2zM115 871v1h1v-1zM115 871h2v1h-2zM117 870h2v1h-2zM119 869h3v1h-3zM122 868h2v1h-2zM123 867v2h1v-2zM124 865v2h1v-2zM125 863v2h1v-2zM126 861v2h1v-2zM127 858v3h1v-3zM128 856v2h1v-2zM129 854v2h1v-2zM130 852v2h1v-2zM131 850v2h1v-2zM131 850h1v1h-1zM132 851h2v1h-2zM134 852h2v1h-2zM136 853h1v1h-1zM137 854h2v1h-2zM139 855h1v1h-1zM139 855h1v1h-1zM140 856h2v1h-2zM142 857h2v1h-2zM144 858h1v1h-1zM145 859h2v1h-2zM147 860h1v1h-1zM147 860h1v1h-1zM148 861h2v1h-2zM150 862h2v1h-2zM152 863h1v1h-1zM153 864h2v1h-2zM155 865h1v1h-1zM155 865h1v1h-1zM156 864h1v1h-1zM157 863h1v1h-1zM158 862h1v1h-1zM159 861h1v1h-1zM160 860h1v1h-1zM161 859h1v1h-1zM162 858h1v1h-1zM163 857h1v1h-1zM163 857h3v1h-3zM166 858h3v1h-3zM169 859h3v1h-3zM171 859h2v1h-2zM173 860h2v1h-2zM175 861h3v1h-3zM178 862h2v1h-2zM179 862v1h1v-1zM180 863v1h1v-1zM181 864v1h1v-1zM182 865v1h1v-1zM183 866v2h1v-2zM184 868v1h1v-1zM185 869v1h1v-1zM186 870v1h1v-1zM187 871v1h1v-1zM187 871v1h1v-1zM188 870v1h1v-1zM189 868v2h1v-2zM190 867v1h1v-1zM191 866v1h1v-1zM192 865v1h1v-1zM193 863v2h1v-2zM194 862v1h1v-1zM195 861v1h1v-1zM195 861h1v1h-1zM196 862h1v1h-1zM197 863h2v1h-2zM199 864h1v1h-1zM200 865h2v1h-2zM202 866h1v1h-1zM203 867h1v1h-1zM203 867v1h1v-1zM204 865v2h1v-2zM205 864v1h1v-1zM206 862v2h1v-2zM207 861v1h1v-1zM208 859v2h1v-2zM209 858v1h1v-1zM210 856v2h1v-2zM211 855v1h1v-1zM211 855h1v1h-1zM212 856h2v1h-2zM214 857h2v1h-2zM216 858h1v1h-1zM217 859h2v1h-2zM219 860h1v1h-1zM219 860h3v1h-3zM222 861h3v1h-3zM225 862h3v1h-3zM227 862h1v1h-1zM228 863h1v1h-1zM229 864h1v1h-1zM230 865h1v1h-1zM231 866h1v1h-1zM232 867h1v1h-1zM233 868h1v1h-1zM234 869h1v1h-1zM235 870h1v1h-1zM235 870h1v1h-1zM236 869h2v1h-2zM238 868h2v1h-2zM240 867h1v1h-1zM241 866h2v1h-2zM243 865h1v1h-1zM243 865h1v1h-1zM244 866h1v1h-1zM245 867h2v1h-2zM247 868h1v1h-1zM248 869h2v1h-2zM250 870h1v1h-1zM251 871h1v1h-1zM251 871h2v1h-2zM253 872h1v1h-1zM254 873h3v1h-3zM257 874h1v1h-1zM258 875h2v1h-2zM259 875h2v1h-2zM261 876h1v1h-1zM262 877h3v1h-3zM265 878h1v1h-1zM266 879h2v1h-2zM267 879h5v1h-5zM272 878h4v1h-4zM275 878v1h1v-1zM276 877v1h1v-1zM277 875v2h1v-2zM278 874v1h1v-1zM279 873v1h1v-1zM280 872v1h1v-1zM281 870v2h1v-2zM282 869v1h1v-1zM283 868v1h1v-1zM283 868h2v1h-2zM285 869h2v1h-2zM287 870h3v1h-3zM290 871h2v1h-2zM291 871h5v1h-5zM296 872h4v1h-4zM299 872v1h1v-1zM300 870v2h1v-2zM301 868v2h1v-2zM302 866v2h1v-2zM303 864v2h1v-2zM304 862v2h1v-2zM305 860v2h1v-2zM306 858v2h1v-2zM307 857v1h1v-1zM307 857h1v1h-1zM308 858h1v1h-1zM309 859h1v1h-1zM310 860h1v1h-1zM311 861h2v1h-2zM313 862h1v1h-1zM314 863h1v1h-1zM315 864h1v1h-1zM315 864h2v1h-2zM317 863h2v1h-2zM319 862h3v1h-3zM322 861h2v1h-2zM323 861h5v1h-5zM328 862h4v1h-4zM331 862h1v1h-1zM332 863h1v1h-1zM333 864h1v1h-1zM334 865h1v1h-1zM335 866h1v1h-1zM336 867h1v1h-1zM337 868h1v1h-1zM338 869h1v1h-1zM339 870h1v1h-1zM339 870h1v1h-1zM340 871h1v1h-1zM341 872h2v1h-2zM343 873h1v1h-1zM344 874h2v1h-2zM346 875h1v1h-1zM347 876h1v1h-1zM347 876h1v1h-1zM348 877h1v1h-1zM349 878h1v1h-1zM350 879h1v1h-1zM351 880h2v1h-2zM353 881h1v1h-1zM354 882h1v1h-1zM355 883h1v1h-1zM355 883h9v1h-9zM363 882v2h1v-2zM364 880v2h1v-2zM365 878v2h1v-2zM366 876v2h1v-2zM367 874v2h1v-2zM368 872v2h1v-2zM369 870v2h1v-2zM370 868v2h1v-2zM371 866v2h1v-2zM371 866h1v1h-1zM372 865h2v1h-2zM374 864h2v1h-2zM376 863h1v1h-1zM377 862h2v1h-2zM379 861h1v1h-1zM379 861h3v1h-3zM382 862h3v1h-3zM385 863h3v1h-3zM387 862v2h1v-2zM388 860v2h1v-2zM389 857v3h1v-3zM390 855v2h1v-2zM391 852v3h1v-3zM392 850v2h1v-2zM393 847v3h1v-3zM394 845v2h1v-2zM395 843v2h1v-2zM395 843h2v1h-2zM397 844h2v1h-2zM399 845h3v1h-3zM402 846h2v1h-2zM403 846h1v1h-1zM404 845h1v1h-1zM405 844h2v1h-2zM407 843h1v1h-1zM408 842h2v1h-2zM410 841h1v1h-1zM411 840h1v1h-1zM411 840h1v1h-1zM412 841h1v1h-1zM413 842h2v1h-2zM415 843h1v1h-1zM416 844h2v1h-2zM418 845h1v1h-1zM419 846h1v1h-1zM419 846h5v1h-5zM424 845h4v1h-4zM427 845v1h1v-1zM428 846v2h1v-2zM429 848v1h1v-1zM430 849v2h1v-2zM431 851v1h1v-1zM432 852v2h1v-2zM433 854v1h1v-1zM434 855v2h1v-2zM435 857v1h1v-1zM435 857v1h1v-1zM436 858v1h1v-1zM437 859v1h1v-1zM438 860v1h1v-1zM439 861v2h1v-2zM440 863v1h1v-1zM441 864v1h1v-1zM442 865v1h1v-1zM443 866v1h1v-1zM443 866h3v1h-3zM446 865h3v1h-3zM449 864h3v1h-3zM451 864h1v1h-1zM452 865h1v1h-1zM453 866h1v1h-1zM454 867h1v1h-1zM455 868h1v1h-1zM456 869h1v1h-1zM457 870h1v1h-1zM458 871h1v1h-1zM459 872h1v1h-1zM459 872v1h1v-1zM460 870v2h1v-2zM461 868v2h1v-2zM462 867v1h1v-1zM463 865v2h1v-2zM464 864v1h1v-1zM465 862v2h1v-2zM466 860v2h1v-2zM467 859v1h1v-1zM467 859h2v1h-2zM469 860h1v1h-1zM470 861h3v1h-3zM473 862h1v1h-1zM474 863h2v1h-2zM475 863h3v1h-3zM478 862h3v1h-3zM481 861h3v1h-3zM483 861v1h1v-1zM484 862v2h1v-2zM485 864v1h1v-1zM486 865v2h1v-2zM487 867v1h1v-1zM488 868v2h1v-2zM489 870v1h1v-1zM490 871v2h1v-2zM491 873v1h1v-1zM491 872v2h1v-2zM492 869v3h1v-3zM493 866v3h1v-3zM494 863v3h1v-3zM495 861v2h1v-2zM496 858v3h1v-3zM497 855v3h1v-3zM498 852v3h1v-3zM499 850v2h1v-2zM499 850h5v1h-5zM504 851h4v1h-4zM507 851h1v1h-1zM508 852h1v1h-1zM509 853h2v1h-2zM511 854h1v1h-1zM512 855h2v1h-2zM514 856h1v1h-1zM515 857h1v1h-1zM515 857h9v1h-9zM523 857h1v1h-1zM524 858h2v1h-2zM526 859h2v1h-2zM528 860h1v1h-1zM529 861h2v1h-2zM531 862h1v1h-1zM531 862h2v1h-2zM533 863h2v1h-2zM535 864h3v1h-3zM538 865h2v1h-2zM539 865h1v1h-1zM540 866h2v1h-2zM542 867h2v1h-2zM544 868h1v1h-1zM545 869h2v1h-2zM547 870h1v1h-1zM547 870h3v1h-3zM550 871h3v1h-3zM553 872h3v1h-3zM555 872v1h1v-1zM556 871v1h1v-1zM557 869v2h1v-2zM558 868v1h1v-1zM559 867v1h1v-1zM560 866v1h1v-1zM561 864v2h1v-2zM562 863v1h1v-1zM563 862v1h1v-1zM563 862h9v1h-9zM571 862v1h1v-1zM572 860v2h1v-2zM573 858v2h1v-2zM574 857v1h1v-1zM575 855v2h1v-2zM576 854v1h1v-1zM577 852v2h1v-2zM578 850v2h1v-2zM579 849v1h1v-1zM579 849h1v1h-1zM580 848h1v1h-1zM581 847h1v1h-1zM582 846h1v1h-1zM583 845h1v1h-1zM584 844h1v1h-1zM585 843h1v1h-1zM586 842h1v1h-1zM587 841h1v1h-1zM587 841h3v1h-3zM590 840h3v1h-3zM593 839h3v1h-3zM595 839h1v1h-1zM596 840h1v1h-1zM597 841h1v1h-1zM598 842h1v1h-1zM599 843h2v1h-2zM601 844h1v1h-1zM602 845h1v1h-1zM603 846h1v1h-1zM603 846h2v1h-2zM605 847h2v1h-2zM607 848h3v1h-3zM610 849h2v1h-2zM611 849h2v1h-2zM613 850h2v1h-2zM615 851h3v1h-3zM618 852h2v1h-2zM619 852h1v1h-1zM620 853h1v1h-1zM621 854h1v1h-1zM622 855h1v1h-1zM623 856h2v1h-2zM625 857h1v1h-1zM626 858h1v1h-1zM627 859h1v1h-1zM627 859v1h1v-1zM628 860v1h1v-1zM629 861v1h1v-1zM630 862v1h1v-1zM631 863v2h1v-2zM632 865v1h1v-1zM633 866v1h1v-1zM634 867v1h1v-1zM635 868v1h1v-1zM635 868h2v1h-2zM637 869h2v1h-2zM639 870h3v1h-3zM642 871h2v1h-2zM643 871h1v1h-1zM644 872h2v1h-2zM646 873h2v1h-2zM648 874h1v1h-1zM649 875h2v1h-2zM651 876h1v1h-1zM651 876v1h1v-1zM652 874v2h1v-2zM653 872v2h1v-2zM654 870v2h1v-2zM655 869v1h1v-1zM656 867v2h1v-2zM657 865v2h1v-2zM658 863v2h1v-2zM659 862v1h1v-1zM659 862h2v1h-2zM661 863h1v1h-1zM662 864h3v1h-3zM665 865h1v1h-1zM666 866h2v1h-2zM667 866h1v1h-1zM668 865h1v1h-1zM669 864h1v1h-1zM670 863h1v1h-1zM671 862h2v1h-2zM673 861h1v1h-1zM674 860h1v1h-1zM675 859h1v1h-1zM675 859h5v1h-5zM680 860h4v1h-4zM683 860h2v1h-2zM685 861h2v1h-2zM687 862h3v1h-3zM690 863h2v1h-2zM691 863h1v1h-1zM692 864h1v1h-1zM693 865h1v1h-1zM694 866h1v1h-1zM695 867h1v1h-1zM696 868h1v1h-1zM697 869h1v1h-1zM698 870h1v1h-1zM699 871h1v1h-1zM699 871h2v1h-2zM701 872h1v1h-1zM702 873h3v1h-3zM705 874h1v1h-1zM706 875h2v1h-2zM707 875v1h1v-1zM708 874v1h1v-1zM709 872v2h1v-2zM710 871v1h1v-1zM711 870v1h1v-1zM712 869v1h1v-1zM713 867v2h1v-2zM714 866v1h1v-1zM715 865v1h1v-1zM715 865h1v1h-1zM716 864h2v1h-2zM718 863h2v1h-2zM720 862h1v1h-1zM721 861h2v1h-2zM723 860h1v1h-1zM723 860h1v1h-1zM724 861h1v1h-1zM725 862h2v1h-2zM727 863h1v1h-1zM728 864h2v1h-2zM730 865h1v1h-1zM731 866h1v1h-1zM731 866v1h1v-1zM732 865v1h1v-1zM733 864v1h1v-1zM734 863v1h1v-1zM735 861v2h1v-2zM736 860v1h1v-1zM737 859v1h1v-1zM738 858v1h1v-1zM739 857v1h1v-1zM739 857h9v1h-9zM747 857h3v1h-3zM750 858h3v1h-3zM753 859h3v1h-3zM755 859h5v1h-5zM760 858h4v1h-4zM763 858h3v1h-3zM766 857h3v1h-3zM769 856h3v1h-3zM771 856h2v1h-2zM773 855h2v1h-2zM775 854h3v1h-3zM778 853h2v1h-2zM779 853v1h1v-1zM780 854v1h1v-1zM781 855v2h1v-2zM782 857v1h1v-1zM783 858v1h1v-1zM784 859v1h1v-1zM785 860v2h1v-2zM786 862v1h1v-1zM787 863v1h1v-1zM787 863h5v1h-5zM792 864h4v1h-4zM795 864h3v1h-3zM798 865h3v1h-3zM801 866h3v1h-3zM803 866h1v1h-1zM804 867h1v1h-1zM805 868h1v1h-1zM806 869h1v1h-1zM807 870h2v1h-2zM809 871h1v1h-1zM810 872h1v1h-1zM811 873h1v1h-1zM811 873h1v1h-1zM812 872h1v1h-1zM813 871h2v1h-2zM815 870h1v1h-1zM816 869h2v1h-2zM818 868h1v1h-1zM819 867h1v1h-1zM819 867h5v1h-5zM824 868h4v1h-4zM827 868h1v1h-1zM828 867h1v1h-1zM829 866h2v1h-2zM831 865h1v1h-1zM832 864h2v1h-2zM834 863h1v1h-1zM835 862h1v1h-1zM835 862h2v1h-2zM837 861h1v1h-1zM838 860h3v1h-3zM841 859h1v1h-1zM842 858h2v1h-2zM843 858h2v1h-2zM845 857h2v1h-2zM847 856h3v1h-3zM850 855h2v1h-2zM851 855h2v1h-2zM853 856h1v1h-1zM854 857h3v1h-3zM857 858h1v1h-1zM858 859h2v1h-2zM859 859h1v1h-1zM860 860h2v1h-2zM862 861h2v1h-2zM864 862h1v1h-1zM865 863h2v1h-2zM867 864h1v1h-1zM867 864h3v1h-3zM870 865h3v1h-3zM873 866h3v1h-3zM875 866h1v1h-1zM876 865h2v1h-2zM878 864h2v1h-2zM880 863h1v1h-1zM881 862h2v1h-2zM883 861h1v1h-1zM883 861h2v1h-2zM885 860h1v1h-1zM886 859h3v1h-3zM889 858h1v1h-1zM890 857h2v1h-2zM891 857h1v1h-1zM892 856h1v1h-1zM893 855h1v1h-1zM894 854h1v1h-1zM895 853h2v1h-2zM897 852h1v1h-1zM898 851h1v1h-1zM899 850h1v1h-1zM899 850h2v1h-2zM901 849h2v1h-2zM903 848h3v1h-3zM906 847h2v1h-2zM907 847h2v1h-2zM909 848h2v1h-2zM911 849h3v1h-3zM914 850h2v1h-2zM915 850h1v1h-1zM916 851h1v1h-1zM917 852h1v1h-1zM918 853h1v1h-1zM919 854h1v1h-1zM920 855h1v1h-1zM921 856h1v1h-1zM922 857h1v1h-1zM923 858h1v1h-1zM923 858v1h1v-1zM924 856v2h1v-2zM925 855v1h1v-1zM926 854v1h1v-1zM927 852v2h1v-2zM928 851v1h1v-1zM929 850v1h1v-1zM930 848v2h1v-2zM931 847v1h1v-1zM931 847h1v1h-1zM932 848h1v1h-1zM933 849h2v1h-2zM935 850h1v1h-1zM936 851h2v1h-2zM938 852h1v1h-1zM939 853h1v1h-1zM939 853h1v1h-1zM940 854h1v1h-1zM941 855h2v1h-2zM943 856h1v1h-1zM944 857h2v1h-2zM946 858h1v1h-1zM947 859h1v1h-1zM947 859h3v1h-3zM950 860h3v1h-3zM953 861h3v1h-3zM955 861v1h1v-1zM956 862v2h1v-2zM957 864v2h1v-2zM958 866v2h1v-2zM959 868v2h1v-2zM960 870v2h1v-2zM961 872v2h1v-2zM962 874v2h1v-2zM963 876v1h1v-1zM963 876h1v1h-1zM964 877h2v1h-2zM966 878h2v1h-2zM968 879h1v1h-1zM969 880h2v1h-2zM971 881h1v1h-1zM971 881v1h1v-1zM972 880v1h1v-1zM973 879v1h1v-1zM974 878v1h1v-1zM975 876v2h1v-2zM976 875v1h1v-1zM977 874v1h1v-1zM978 873v1h1v-1zM979 872v1h1v-1zM979 872v1h1v-1zM980 870v2h1v-2zM981 869v1h1v-1zM982 868v1h1v-1zM983 866v2h1v-2zM984 865v1h1v-1zM985 864v1h1v-1zM986 862v2h1v-2zM987 861v1h1v-1zM987 861h5v1h-5zM992 860h4v1h-4zM995 860h2v1h-2zM997 859h1v1h-1zM998 858h3v1h-3zM1001 857h1v1h-1zM1002 856h2v1h-2zM1003 856v1h1v-1zM1004 857v2h1v-2zM1005 859v1h1v-1zM1006 860v1h1v-1zM1007 861v2h1v-2zM1008 863v1h1v-1zM1009 864v1h1v-1zM1010 865v2h1v-2zM1011 867v1h1v-1zM1011 867v1h1v-1zM1012 865v2h1v-2zM1013 863v2h1v-2zM1014 862v1h1v-1zM1015 860v2h1v-2zM1016 859v1h1v-1zM1017 857v2h1v-2zM1018 855v2h1v-2zM1019 854v1h1v-1zM1019 854h5v1h-5zM1024 853h4v1h-4zM1027 853v1h1v-1zM1028 852v1h1v-1zM1029 850v2h1v-2zM1030 849v1h1v-1zM1031 848v1h1v-1zM1032 847v1h1v-1zM1033 845v2h1v-2zM1034 844v1h1v-1zM1035 843v1h1v-1zM1035 843h1v1h-1zM1036 842h1v1h-1zM1037 841h2v1h-2zM1039 840h1v1h-1zM1040 839h2v1h-2zM1042 838h1v1h-1zM1043 837h1v1h-1zM1043 837v1h1v-1zM1044 838v1h1v-1zM1045 839v2h1v-2zM1046 841v1h1v-1zM1047 842v1h1v-1zM1048 843v1h1v-1zM1049 844v2h1v-2zM1050 846v1h1v-1zM1051 847v1h1v-1zM1051 847h2v1h-2zM1053 848h1v1h-1zM1054 849h3v1h-3zM1057 850h1v1h-1zM1058 851h2v1h-2zM1059 851h5v1h-5zM1064 850h4v1h-4zM1067 850v1h1v-1zM1068 848v2h1v-2zM1069 846v2h1v-2zM1070 844v2h1v-2zM1071 842v2h1v-2zM1072 840v2h1v-2zM1073 838v2h1v-2zM1074 836v2h1v-2zM1075 835v1h1v-1zM1075 835h2v1h-2zM1077 836h1v1h-1zM1078 837h3v1h-3zM1081 838h1v1h-1zM1082 839h2v1h-2zM1083 839h1v1h-1zM1084 840h1v1h-1zM1085 841h2v1h-2zM1087 842h1v1h-1zM1088 843h2v1h-2zM1090 844h1v1h-1zM1091 845h1v1h-1zM1091 845v1h1v-1zM1092 843v2h1v-2zM1093 841v2h1v-2zM1094 839v2h1v-2zM1095 837v2h1v-2zM1096 835v2h1v-2zM1097 833v2h1v-2zM1098 831v2h1v-2zM1099 830v1h1v-1zM1099 830v1h1v-1zM1100 831v2h1v-2zM1101 833v2h1v-2zM1102 835v2h1v-2zM1103 837v2h1v-2zM1104 839v2h1v-2zM1105 841v2h1v-2zM1106 843v2h1v-2zM1107 845v1h1v-1zM1107 845h1v1h-1zM1108 846h1v1h-1zM1109 847h2v1h-2zM1111 848h1v1h-1zM1112 849h2v1h-2zM1114 850h1v1h-1zM1115 851h1v1h-1zM1115 851h1v1h-1zM1116 850h1v1h-1zM1117 849h1v1h-1zM1118 848h1v1h-1zM1119 847h1v1h-1zM1120 846h1v1h-1zM1121 845h1v1h-1zM1122 844h1v1h-1zM1123 843h1v1h-1zM1123 843h2v1h-2zM1125 844h2v1h-2zM1127 845h3v1h-3zM1130 846h2v1h-2zM1131 846h5v1h-5zM1136 847h4v1h-4zM1139 847h2v1h-2zM1141 846h2v1h-2zM1143 845h3v1h-3zM1146 844h2v1h-2zM1147 844h5v1h-5zM1152 843h4v1h-4zM1155 843h1v1h-1zM1156 844h1v1h-1zM1157 845h1v1h-1zM1158 846h1v1h-1zM1159 847h2v1h-2zM1161 848h1v1h-1zM1162 849h1v1h-1zM1163 850h1v1h-1zM1163 850v1h1v-1zM1164 851v1h1v-1zM1165 852v1h1v-1zM1166 853v1h1v-1zM1167 854v2h1v-2zM1168 856v1h1v-1zM1169 857v1h1v-1zM1170 858v1h1v-1zM1171 859v1h1v-1zM1171 859h2v1h-2zM1173 858h1v1h-1zM1174 857h3v1h-3zM1177 856h1v1h-1zM1178 855h2v1h-2zM1179 855h3v1h-3zM1182 856h3v1h-3zM1185 857h3v1h-3zM1187 857h5v1h-5zM1192 856h4v1h-4zM1195 856h1v1h-1zM1196 857h1v1h-1zM1197 858h2v1h-2zM1199 859h1v1h-1zM1200 860h2v1h-2zM1202 861h1v1h-1zM1203 862h1v1h-1zM1203 862v1h1v-1zM1204 860v2h1v-2zM1205 858v2h1v-2zM1206 856v2h1v-2zM1207 854v2h1v-2zM1208 852v2h1v-2zM1209 850v2h1v-2zM1210 848v2h1v-2zM1211 847v1h1v-1zM1211 847h5v1h-5zM1216 846h4v1h-4zM1219 846v1h1v-1zM1220 844v2h1v-2zM1221 843v1h1v-1zM1222 842v1h1v-1zM1223 840v2h1v-2zM1224 839v1h1v-1zM1225 838v1h1v-1zM1226 836v2h1v-2zM1227 835v1h1v-1zM1227 835h5v1h-5zM1232 834h4v1h-4zM1235 834h3v1h-3zM1238 833h3v1h-3zM1241 832h3v1h-3zM1243 832h2v1h-2zM1245 833h1v1h-1zM1246 834h3v1h-3zM1249 835h1v1h-1zM1250 836h2v1h-2zM1251 836h1v1h-1zM1252 837h2v1h-2zM1254 838h2v1h-2zM1256 839h1v1h-1zM1257 840h2v1h-2zM1259 841h1v1h-1zM1259 840v2h1v-2zM1260 837v3h1v-3zM1261 835v2h1v-2zM1262 832v3h1v-3zM1263 829v3h1v-3zM1264 826v3h1v-3zM1265 824v2h1v-2zM1266 821v3h1v-3zM1267 819v2h1v-2zM1267 819h1v1h-1zM1268 820h1v1h-1zM1269 821h1v1h-1zM1270 822h1v1h-1zM1271 823h2v1h-2zM1273 824h1v1h-1zM1274 825h1v1h-1zM1275 826h1v1h-1zM1275 826v1h1v-1zM1276 827v1h1v-1zM1277 828v1h1v-1zM1278 829v1h1v-1zM1279 830v2h1v-2zM1280 832v1h1v-1zM1281 833v1h1v-1zM1282 834v1h1v-1zM1283 835v1h1v-1zM1283 835h2v1h-2zM1285 834h1v1h-1zM1286 833h3v1h-3zM1289 832h1v1h-1zM1290 831h2v1h-2zM1291 831h3v1h-3zM1294 830h3v1h-3zM1297 829h3v1h-3zM1299 829h2v1h-2zM1301 828h1v1h-1zM1302 827h3v1h-3zM1305 826h1v1h-1zM1306 825h2v1h-2zM1307 825v1h1v-1zM1308 824v1h1v-1zM1309 822v2h1v-2zM1310 821v1h1v-1zM1311 820v1h1v-1zM1312 819v1h1v-1zM1313 817v2h1v-2zM1314 816v1h1v-1zM1315 815v1h1v-1zM1315 815v1h1v-1zM1316 814v1h1v-1zM1317 813v1h1v-1zM1318 812v1h1v-1zM1319 810v2h1v-2zM1320 809v1h1v-1zM1321 808v1h1v-1zM1322 807v1h1v-1zM1323 806v1h1v-1zM1323 806v1h1v-1zM1324 807v2h1v-2zM1325 809v2h1v-2zM1326 811v2h1v-2zM1327 813v1h1v-1zM1328 814v2h1v-2zM1329 816v2h1v-2zM1330 818v2h1v-2zM1331 820v1h1v-1zM1331 820h1v1h-1zM1332 821h1v1h-1zM1333 822h1v1h-1zM1334 823h1v1h-1zM1335 824h1v1h-1zM1336 825h1v1h-1zM1337 826h1v1h-1zM1338 827h1v1h-1zM1339 828h1v1h-1zM1339 828h1v1h-1zM1340 829h1v1h-1zM1341 830h1v1h-1zM1342 831h1v1h-1zM1343 832h1v1h-1zM1344 833h1v1h-1zM1345 834h1v1h-1zM1346 835h1v1h-1zM1347 836h1v1h-1zM1347 836h1v1h-1zM1348 835h1v1h-1zM1349 834h2v1h-2zM1351 833h1v1h-1zM1352 832h2v1h-2zM1354 831h1v1h-1zM1355 830h1v1h-1zM1355 830h9v1h-9zM1363 830h3v1h-3zM1366 829h3v1h-3zM1369 828h3v1h-3zM1371 828h1v1h-1zM1372 829h1v1h-1zM1373 830h1v1h-1zM1374 831h1v1h-1zM1375 832h2v1h-2zM1377 833h1v1h-1zM1378 834h1v1h-1zM1379 835h1v1h-1zM1379 835h1v1h-1zM1380 834h1v1h-1zM1381 833h1v1h-1zM1382 832h1v1h-1zM1383 831h1v1h-1zM1384 830h1v1h-1zM1385 829h1v1h-1zM1386 828h1v1h-1zM1387 827h1v1h-1zM1387 827h9v1h-9zM1395 827h9v1h-9zM1403 827h5v1h-5zM1408 826h4v1h-4z" fill="#1E90FF"/>
</g>
<line x1="985.0" y1="876.2" x2="1318.1" y2="817.1" stroke="#f00" stroke-width="3.6"/><polygon points="1327.0,815.5 1317.0,822.3 1315.3,812.5" fill="#f00"/>
<line x1="1318.0" y1="814.6" x2="1407.1" y2="825.4" stroke="#f00" stroke-width="3.6"/><polygon points="1416.0,826.5 1404.5,830.1 1405.7,820.2" fill="#f00"/>
<text x="0" y="762" font-size="9.8" fill="#000" text-anchor="start" font-family="Liberation Sans, sans-serif" stroke="#000" stroke-width="0.3" textLength="66.5" lengthAdjust="spacingAndGlyphs">RSI(14) 58.3361</text>
<rect x="1683" y="751" width="2" height="1" fill="#000" shape-rendering="crispEdges"/>
<rect x="1683" y="923" width="2" height="1" fill="#000" shape-rendering="crispEdges"/>
<text transform="translate(1686.3 760) scale(0.921 1)" font-size="10" fill="#000" text-anchor="start" font-family="Liberation Sans, sans-serif" stroke="#000" stroke-width="0.3" >100</text>
<text transform="translate(1686.3 789) scale(0.921 1)" font-size="10" fill="#000" text-anchor="start" font-family="Liberation Sans, sans-serif" stroke="#000" stroke-width="0.3" >80</text>
<text transform="translate(1686.3 840) scale(0.921 1)" font-size="10" fill="#000" text-anchor="start" font-family="Liberation Sans, sans-serif" stroke="#000" stroke-width="0.3" >50</text>
<text transform="translate(1686.3 901) scale(0.921 1)" font-size="10" fill="#000" text-anchor="start" font-family="Liberation Sans, sans-serif" stroke="#000" stroke-width="0.3" >15</text>
<text transform="translate(1686.3 920) scale(0.921 1)" font-size="10" fill="#000" text-anchor="start" font-family="Liberation Sans, sans-serif" stroke="#000" stroke-width="0.3" >0</text>
<rect x="-5" y="924" width="1" height="3" fill="#000" shape-rendering="crispEdges"/>
<text transform="translate(-6 936) scale(0.921 1)" font-size="10" fill="#000" text-anchor="start" font-family="Liberation Sans, sans-serif" stroke="#000" stroke-width="0.3" >15 Jul 2020</text>
<rect x="59" y="924" width="1" height="3" fill="#000" shape-rendering="crispEdges"/>
<text transform="translate(58 936) scale(0.921 1)" font-size="10" fill="#000" text-anchor="start" font-family="Liberation Sans, sans-serif" stroke="#000" stroke-width="0.3" >27 Jul 2020</text>
<rect x="123" y="924" width="1" height="3" fill="#000" shape-rendering="crispEdges"/>
<text transform="translate(122 936) scale(0.921 1)" font-size="10" fill="#000" text-anchor="start" font-family="Liberation Sans, sans-serif" stroke="#000" stroke-width="0.3" >6 Aug 2020</text>
<rect x="187" y="924" width="1" height="3" fill="#000" shape-rendering="crispEdges"/>
<text transform="translate(186 936) scale(0.921 1)" font-size="10" fill="#000" text-anchor="start" font-family="Liberation Sans, sans-serif" stroke="#000" stroke-width="0.3" >18 Aug 2020</text>
<rect x="251" y="924" width="1" height="3" fill="#000" shape-rendering="crispEdges"/>
<text transform="translate(250 936) scale(0.921 1)" font-size="10" fill="#000" text-anchor="start" font-family="Liberation Sans, sans-serif" stroke="#000" stroke-width="0.3" >28 Aug 2020</text>
<rect x="315" y="924" width="1" height="3" fill="#000" shape-rendering="crispEdges"/>
<text transform="translate(314 936) scale(0.921 1)" font-size="10" fill="#000" text-anchor="start" font-family="Liberation Sans, sans-serif" stroke="#000" stroke-width="0.3" >9 Sep 2020</text>
<rect x="379" y="924" width="1" height="3" fill="#000" shape-rendering="crispEdges"/>
<text transform="translate(378 936) scale(0.921 1)" font-size="10" fill="#000" text-anchor="start" font-family="Liberation Sans, sans-serif" stroke="#000" stroke-width="0.3" >21 Sep 2020</text>
<rect x="443" y="924" width="1" height="3" fill="#000" shape-rendering="crispEdges"/>
<text transform="translate(442 936) scale(0.921 1)" font-size="10" fill="#000" text-anchor="start" font-family="Liberation Sans, sans-serif" stroke="#000" stroke-width="0.3" >1 Oct 2020</text>
<rect x="507" y="924" width="1" height="3" fill="#000" shape-rendering="crispEdges"/>
<text transform="translate(506 936) scale(0.921 1)" font-size="10" fill="#000" text-anchor="start" font-family="Liberation Sans, sans-serif" stroke="#000" stroke-width="0.3" >13 Oct 2020</text>
<rect x="571" y="924" width="1" height="3" fill="#000" shape-rendering="crispEdges"/>
<text transform="translate(570 936) scale(0.921 1)" font-size="10" fill="#000" text-anchor="start" font-family="Liberation Sans, sans-serif" stroke="#000" stroke-width="0.3" >23 Oct 2020</text>
<rect x="635" y="924" width="1" height="3" fill="#000" shape-rendering="crispEdges"/>
<text transform="translate(634 936) scale(0.921 1)" font-size="10" fill="#000" text-anchor="start" font-family="Liberation Sans, sans-serif" stroke="#000" stroke-width="0.3" >4 Nov 2020</text>
<rect x="699" y="924" width="1" height="3" fill="#000" shape-rendering="crispEdges"/>
<text transform="translate(698 936) scale(0.921 1)" font-size="10" fill="#000" text-anchor="start" font-family="Liberation Sans, sans-serif" stroke="#000" stroke-width="0.3" >16 Nov 2020</text>
<rect x="763" y="924" width="1" height="3" fill="#000" shape-rendering="crispEdges"/>
<text transform="translate(762 936) scale(0.921 1)" font-size="10" fill="#000" text-anchor="start" font-family="Liberation Sans, sans-serif" stroke="#000" stroke-width="0.3" >26 Nov 2020</text>
<rect x="827" y="924" width="1" height="3" fill="#000" shape-rendering="crispEdges"/>
<text transform="translate(826 936) scale(0.921 1)" font-size="10" fill="#000" text-anchor="start" font-family="Liberation Sans, sans-serif" stroke="#000" stroke-width="0.3" >8 Dec 2020</text>
<rect x="891" y="924" width="1" height="3" fill="#000" shape-rendering="crispEdges"/>
<text transform="translate(890 936) scale(0.921 1)" font-size="10" fill="#000" text-anchor="start" font-family="Liberation Sans, sans-serif" stroke="#000" stroke-width="0.3" >18 Dec 2020</text>
<rect x="955" y="924" width="1" height="3" fill="#000" shape-rendering="crispEdges"/>
<text transform="translate(954 936) scale(0.921 1)" font-size="10" fill="#000" text-anchor="start" font-family="Liberation Sans, sans-serif" stroke="#000" stroke-width="0.3" >31 Dec 2020</text>
<rect x="1019" y="924" width="1" height="3" fill="#000" shape-rendering="crispEdges"/>
<text transform="translate(1018 936) scale(0.921 1)" font-size="10" fill="#000" text-anchor="start" font-family="Liberation Sans, sans-serif" stroke="#000" stroke-width="0.3" >13 Jan 2021</text>
<rect x="1083" y="924" width="1" height="3" fill="#000" shape-rendering="crispEdges"/>
<text transform="translate(1082 936) scale(0.921 1)" font-size="10" fill="#000" text-anchor="start" font-family="Liberation Sans, sans-serif" stroke="#000" stroke-width="0.3" >25 Jan 2021</text>
<rect x="1147" y="924" width="1" height="3" fill="#000" shape-rendering="crispEdges"/>
<text transform="translate(1146 936) scale(0.921 1)" font-size="10" fill="#000" text-anchor="start" font-family="Liberation Sans, sans-serif" stroke="#000" stroke-width="0.3" >4 Feb 2021</text>
<rect x="1211" y="924" width="1" height="3" fill="#000" shape-rendering="crispEdges"/>
<text transform="translate(1210 936) scale(0.921 1)" font-size="10" fill="#000" text-anchor="start" font-family="Liberation Sans, sans-serif" stroke="#000" stroke-width="0.3" >16 Feb 2021</text>
<rect x="1275" y="924" width="1" height="3" fill="#000" shape-rendering="crispEdges"/>
<text transform="translate(1274 936) scale(0.921 1)" font-size="10" fill="#000" text-anchor="start" font-family="Liberation Sans, sans-serif" stroke="#000" stroke-width="0.3" >26 Feb 2021</text>
<rect x="1339" y="924" width="1" height="3" fill="#000" shape-rendering="crispEdges"/>
<text transform="translate(1338 936) scale(0.921 1)" font-size="10" fill="#000" text-anchor="start" font-family="Liberation Sans, sans-serif" stroke="#000" stroke-width="0.3" >10 Mar 2021</text>
<rect x="1403" y="924" width="1" height="3" fill="#000" shape-rendering="crispEdges"/>
<text transform="translate(1402 936) scale(0.921 1)" font-size="10" fill="#000" text-anchor="start" font-family="Liberation Sans, sans-serif" stroke="#000" stroke-width="0.3" >22 Mar 2021</text>
<g id="toolbar">
<defs>
<linearGradient id="gold" x1="0" y1="0" x2="1" y2="1"><stop offset="0" stop-color="#f6d860"/><stop offset="1" stop-color="#b8860b"/></linearGradient>
<linearGradient id="blu" x1="0" y1="0" x2="0" y2="1"><stop offset="0" stop-color="#49a4ea"/><stop offset="1" stop-color="#1a5fc0"/></linearGradient>
<linearGradient id="redb" x1="0" y1="0" x2="0" y2="1"><stop offset="0" stop-color="#e8482c"/><stop offset="1" stop-color="#c8200c"/></linearGradient>
</defs>
<rect x="0" y="0" width="1729" height="18" fill="#f0f0f0"/>
<rect x="0" y="17" width="1729" height="1" fill="#d0d0d0"/>
<rect x="0" y="18" width="1729" height="1" fill="#9a9a9a"/>
<rect x="0" y="19" width="1729" height="1" fill="#6a6a6a"/>
<rect x="1728" y="20" width="1" height="920" fill="#e8e8e8"/>
<!-- partial doc icon -->
<rect x="-3" y="-2" width="8" height="14" fill="#fff" stroke="#3a7fd0" stroke-width="1.2"/>
<path d="M0 6h3" stroke="#000" stroke-width="1"/>
<!-- print preview -->
<rect x="19" y="-2" width="11" height="13" fill="#fafafa" stroke="#a09a90" stroke-width="1"/>
<circle cx="26.5" cy="6" r="5" fill="#d4e4f8" fill-opacity="0.85" stroke="#7aa6e0" stroke-width="1.3"/>
<rect x="24.5" y="3" width="3" height="5" fill="#98a8c0"/>
<path d="M30 10l5 5" stroke="#c8961c" stroke-width="2.4" stroke-linecap="round"/>
<rect x="43" y="0" width="1" height="16" fill="#909090"/>
<!-- new order -->
<path d="M53.5 -1h8l3 3v9h-11z" fill="#fafafa" stroke="#808080" stroke-width="1"/>
<path d="M56 3h5M56 6h5" stroke="#909090" stroke-width="1"/>
<path d="M63.5 4.500v11.500M57.500 10.200h12" stroke="#0a9a0a" stroke-width="3.8"/>
<path d="M63.5 5.500v9.500M58.500 10.200h10" stroke="#22dd22" stroke-width="2"/>
<text x="72" y="9" font-size="12" fill="#000" font-weight="500" font-family="Liberation Sans, Noto Sans CJK SC, sans-serif" textLength="36.500" lengthAdjust="spacingAndGlyphs">新订单</text>
<!-- gold book -->
<path d="M126 -1l9.600 7.600-7.600 6.900-8-6.200z" fill="url(#gold)"/>
<path d="M120 7.300l8 6.200 7.600-6.900" fill="none" stroke="#9a6a08" stroke-width="1.700" stroke-linejoin="round"/>
<path d="M121 6.500l7.500 5.800 6.500-6" fill="none" stroke="#f8e08a" stroke-width="0.800"/>
<!-- cloud/server -->
<rect x="153.500" y="-2" width="8" height="9.500" fill="#3c9be8" stroke="#1e6fc8" stroke-width="1"/>
<rect x="155.500" y="2" width="4.500" height="1.500" fill="#e8f2ff"/>
<g fill="#e6edf8" stroke="#7a8fb8" stroke-width="0.900">
<circle cx="152.500" cy="11" r="3"/><circle cx="157" cy="9.500" r="3.600"/><circle cx="161.500" cy="11" r="3"/>
</g>
<rect x="152" y="10" width="10" height="3.500" fill="#e6edf8"/>
<path d="M151.500 14h11" stroke="#7a8fb8" stroke-width="0.900"/>
<!-- signal -->
<path d="M184 5.500v8a8 8 0 0 0 7.500-10z" fill="#58b058" fill-opacity="0.550"/>
<path d="M178.800 11a7.300 7.300 0 0 1 0-11" fill="none" stroke="#9cb4e0" stroke-width="1.200"/>
<path d="M180.800 9a4.500 4.500 0 0 1 0-7" fill="none" stroke="#5c84d8" stroke-width="1.200"/>
<path d="M187.200 2a4.500 4.500 0 0 1 0 7" fill="none" stroke="#8ab8a8" stroke-width="1.100"/>
<path d="M189.200 0a7.300 7.300 0 0 1 0 11" fill="none" stroke="#a8c8c0" stroke-width="1.100"/>
<circle cx="184" cy="5.500" r="1.800" fill="#2a5cc8"/>
<rect x="183.400" y="6" width="1.400" height="7.800" fill="#18a018"/>
<!-- autotrading -->
<path d="M204 5h15l-3 7-5 2z" fill="#f8d848" stroke="#d0a010" stroke-width="0.8"/>
<ellipse cx="211" cy="3" rx="7.500" ry="3" fill="#58b0e8" stroke="#2880c8" stroke-width="0.8"/>
<path d="M207 2q1-5 4-5t4 5z" fill="#48a0e0"/>
<circle cx="215.500" cy="9.500" r="4.200" fill="#e02810"/>
<rect x="213.800" y="7.800" width="3.400" height="3.400" fill="#fff"/>
<text x="225.500" y="9" font-size="12" fill="#000" font-weight="500" font-family="Liberation Sans, Noto Sans CJK SC, sans-serif" textLength="46" lengthAdjust="spacingAndGlyphs">自动交易</text>
<rect x="279" y="0" width="1" height="17" fill="#909090"/>
<path d="M283 0v16M285 0v16" stroke="#b8b8b8" stroke-width="1" stroke-dasharray="1 1"/>
<!-- bar chart icon -->
<g stroke="#505050" stroke-width="1.2" fill="none">
<path d="M297.500 0v14M295 11.500h13"/>

</g>
<path d="M303.500 1v9M303.500 2h2.500M301 8h2.500" stroke="#18a018" stroke-width="1.300" fill="none"/>
<rect x="317" y="0" width="1" height="16" fill="#909090"/>
<!-- candle icon (active) -->
<rect x="319" y="0" width="24" height="17" fill="#f8f8f8"/>
<g stroke="#505050" stroke-width="1.2" fill="none"><path d="M325.500 0v14M323 11.500h13"/></g>
<path d="M331.500 -1v10" stroke="#18a018" stroke-width="1"/>
<rect x="329.500" y="0" width="4" height="7" fill="#30c030" stroke="#109010" stroke-width="0.8"/>
<!-- line chart icon -->
<g stroke="#505050" stroke-width="1.2" fill="none"><path d="M353.500 0v14M351 11.500h13"/></g>
<path d="M353.500 8q3-6 6-4t4 4" stroke="#18a018" stroke-width="1.300" fill="none"/>
<rect x="374" y="0" width="1" height="16" fill="#909090"/>
<!-- zoom in -->
<circle cx="389" cy="4" r="5" fill="#dcecfc" stroke="#4a8ce0" stroke-width="1.500"/>
<path d="M386.500 4h5M389 1.500v5" stroke="#2a6cd0" stroke-width="1.500"/>
<path d="M393 8l5 5" stroke="#d0a020" stroke-width="2.400" stroke-linecap="round"/>
<!-- zoom out -->
<circle cx="417" cy="4" r="5" fill="#dcecfc" stroke="#4a8ce0" stroke-width="1.500"/>
<path d="M414.500 4h5" stroke="#2a6cd0" stroke-width="1.500"/>
<path d="M421 8l5 5" stroke="#d0a020" stroke-width="2.400" stroke-linecap="round"/>
<!-- tile -->
<rect x="439" y="0" width="7.500" height="6" fill="#58a838"/><rect x="447.500" y="0" width="7.500" height="6" fill="#3a78d8"/>
<rect x="439" y="7" width="7.500" height="6.500" fill="#3a78d8"/><rect x="447.500" y="7" width="7.500" height="6.500" fill="#58a838"/>
<rect x="440.500" y="2" width="4.500" height="2.500" fill="#eef"/><rect x="449" y="2" width="4.500" height="2.500" fill="#eef"/><rect x="440.500" y="9.500" width="4.500" height="2.500" fill="#eef"/><rect x="449" y="9.500" width="4.500" height="2.500" fill="#eef"/>
<rect x="464" y="0" width="1" height="16" fill="#909090"/><rect x="469" y="0" width="1" height="16" fill="#909090"/>
<!-- chart shift -->
<rect x="470" y="0" width="24" height="17" fill="#f8f8f8"/>
<g stroke="#505050" stroke-width="1.2" fill="none"><path d="M477.500 0v14M475 11.500h13"/></g>
<path d="M482 2.500l4.500 3-4.500 3z" fill="#30c030" stroke="#109010" stroke-width="0.800"/>
<rect x="497" y="0" width="1" height="16" fill="#b0b0b0"/>
<!-- autoscroll -->
<rect x="498" y="0" width="24" height="17" fill="#f8f8f8"/>
<g stroke="#505050" stroke-width="1.2" fill="none"><path d="M505.500 0v14M503 11.500h13"/></g>
<path d="M511.500 0v10" stroke="#2a6cc8" stroke-width="1"/>
<path d="M517 5.500h-4M515 3.500l-2.500 2 2.500 2" stroke="#d03010" stroke-width="1" fill="none"/>
<rect x="526" y="0" width="1" height="16" fill="#909090"/>
<path d="M307 9.300l3 2.200-3 2.200z" fill="#505050"/><path d="M335 9.300l3 2.200-3 2.200z" fill="#505050"/><path d="M363 9.300l3 2.200-3 2.200z" fill="#505050"/><path d="M487 9.300l3 2.200-3 2.200z" fill="#505050"/><path d="M515 9.300l3 2.200-3 2.200z" fill="#505050"/>
<!-- add indicator -->
<path d="M536.500 -1h7l3 3v9h-10z" fill="#fafafa" stroke="#808080" stroke-width="1"/>
<path d="M546.500 3v11M541 8.500h11" stroke="#0a9a0a" stroke-width="3.600"/>
<path d="M546.500 4v9M542 8.500h9" stroke="#22dd22" stroke-width="2"/>
<path d="M558 5h5l-2.500 3z" fill="#000"/>
<!-- clock -->
<circle cx="582" cy="5.500" r="7" fill="#f4f8ff" stroke="url(#blu)" stroke-width="2.400"/>
<path d="M582 2v4h3" stroke="#404040" stroke-width="1" fill="none"/>
<path d="M597 5h5l-2.500 3z" fill="#000"/>
<!-- template -->
<rect x="613.500" y="-1" width="15" height="13" fill="#fff" stroke="#3a78d8" stroke-width="1.400"/>
<path d="M615 4l3-1 3 1 3-2 3 0" stroke="#c03018" stroke-width="1.200" fill="none"/>
<path d="M615 10l3-1 3 1 3-2 3 1" stroke="#189018" stroke-width="1.200" fill="none"/>
<path d="M614 6.500h14" stroke="#3a78d8" stroke-width="0.800"/>
<path d="M636 5h5l-2.500 3z" fill="#000"/>
<rect x="647" y="0" width="1" height="18" fill="#909090"/>
<path d="M651 0v16M653 0v16" stroke="#b8b8b8" stroke-width="1" stroke-dasharray="1 1"/>
<rect x="657" y="0" width="1" height="16" fill="#909090"/>
<!-- cursor -->
<rect x="658" y="0" width="24" height="17" fill="#f8f8f8"/>
<path d="M665 -2v12l3-2.500 2.500 5.500 2-1-2.500-5.500h4z" fill="#404040"/>
<!-- crosshair -->
<path d="M697.500 0v14M690 6.500h15" stroke="#404040" stroke-width="1" shape-rendering="crispEdges"/>
<rect x="714" y="0" width="1" height="16" fill="#909090"/>
<path d="M731.500 0v13" stroke="#404040" stroke-width="1" shape-rendering="crispEdges"/>
<path d="M754 6.500h12" stroke="#404040" stroke-width="1" shape-rendering="crispEdges"/>
<path d="M781 12.500l13-12" stroke="#404040" stroke-width="1.100"/>
<!-- channel -->
<path d="M808 9l12-9M810 13l12-9M811 4v8M814 2v8M817 0v8" stroke="#505050" stroke-width="1" fill="none"/>
<text x="819" y="15" font-size="6.500" font-weight="bold" fill="#404040" font-family="Liberation Sans, sans-serif">E</text>
<!-- fibo -->
<path d="M836 2.500h14M836 6.500h14M836 10.500h11" stroke="#505050" stroke-width="1" stroke-dasharray="1 1" shape-rendering="crispEdges"/>
<text x="847" y="15" font-size="6.500" font-weight="bold" fill="#404040" font-family="Liberation Sans, sans-serif">F</text>
<text x="871.500" y="11" font-size="13" font-weight="bold" fill="#585858" text-anchor="middle" font-family="Liberation Sans, sans-serif">A</text>
<rect x="894.500" y="-0.500" width="11" height="12" fill="none" stroke="#606060" stroke-width="1" stroke-dasharray="1 1" shape-rendering="crispEdges"/>
<text x="900" y="10.500" font-size="11.500" font-weight="bold" fill="#505050" text-anchor="middle" font-family="Liberation Sans, sans-serif">T</text>
<!-- arrows icon -->
<path d="M921.500 3l3-3 3 3-3 2.500zM929 9.500l3-2.500 3 2.500-3 3z" fill="#404040"/>
<path d="M923 6l2.500 3 4-4" stroke="#404040" stroke-width="1.300" fill="none"/>
<path d="M942 5h5l-2.500 3z" fill="#000"/>
<rect x="953" y="0" width="1" height="18" fill="#909090"/>
<path d="M957 0v16M959 0v16" stroke="#b8b8b8" stroke-width="1" stroke-dasharray="1 1"/>
<g font-size="10" fill="#484848" font-family="Liberation Sans, sans-serif" text-anchor="middle">
<text x="974.700" y="10.400">M1</text><text x="1003" y="10.400">M5</text><text x="1031.300" y="10.400">M15</text><text x="1059.400" y="10.400">M30</text><text x="1087.300" y="10.400">H1</text><text x="1114.800" y="10.400">H4</text>
</g>
<rect x="1131" y="0" width="1" height="16" fill="#909090"/>
<rect x="1132" y="0" width="24" height="17" fill="#f8f8f8"/>
<g font-size="10" fill="#484848" font-family="Liberation Sans, sans-serif" text-anchor="middle">
<text x="1143.400" y="10.400">D1</text><text x="1172.100" y="10.400">W1</text><text x="1199" y="10.400">MN</text>
</g>
<rect x="1214" y="0" width="1" height="18" fill="#909090"/>
<!-- search -->
<circle cx="1684.700" cy="3.500" r="3.800" fill="#fff" stroke="#2a62d8" stroke-width="1.300"/>
<path d="M1682 6.500l-4.500 4" stroke="#2a62d8" stroke-width="2.200" stroke-linecap="round"/>
<!-- chat bubble -->
<path d="M1702 8q0-5 6-5t6 5-6 5h-3l-2 2v-3q-1-1-1-4z" fill="#e8e8ec" stroke="#c4c4c8" stroke-width="0.800"/>
<circle cx="1715.500" cy="3" r="8.500" fill="url(#redb)"/>
<text x="1715.500" y="8" font-size="13" fill="#fff" text-anchor="middle" font-family="Liberation Serif, serif">1</text>
</g>

</svg>
</body></html>
